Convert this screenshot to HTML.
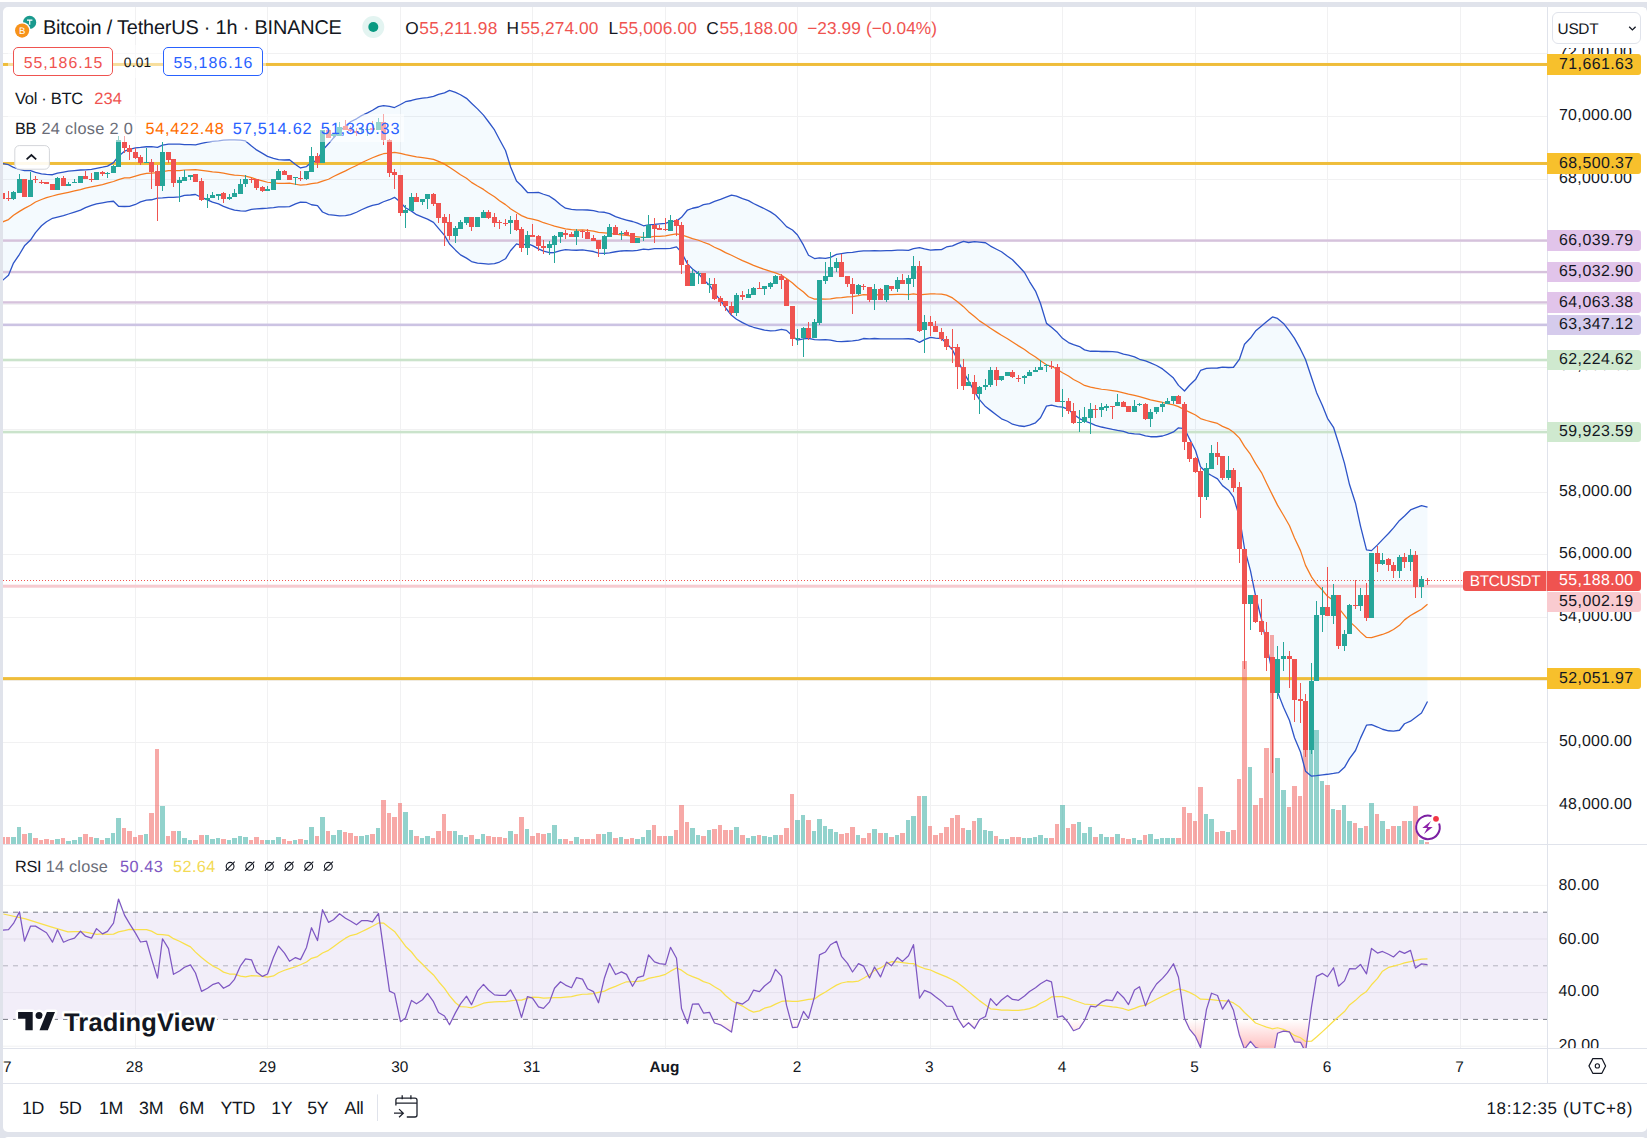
<!DOCTYPE html>
<html><head><meta charset="utf-8"><title>BTCUSDT</title><style>
html,body{margin:0;padding:0;}
body{width:1647px;height:1138px;overflow:hidden;position:relative;background:#e0e3eb;font-family:"Liberation Sans",sans-serif;text-rendering:geometricPrecision;}
.panel{position:absolute;background:#fff;border-radius:5px;}
.t{position:absolute;white-space:nowrap;}
.box{position:absolute;border:1px solid;border-radius:5px;box-sizing:border-box;background:#fff;}
.pb{position:absolute;border-radius:0 3px 3px 0;}
.usdt{position:absolute;left:1552.3px;top:12.3px;width:89px;height:31.3px;box-sizing:border-box;border:1px solid #e0e3eb;border-radius:6px;background:#fff;}
</style></head><body>
<div class="panel" style="left:3px;top:7px;width:1644px;height:1125px"></div>
<div class="panel" style="left:3px;top:1137px;width:1644px;height:20px"></div>
<div style="position:absolute;left:0;top:0;width:1647px;height:2px;background:#fff"></div>
<svg width="1647" height="1138" viewBox="0 0 1647 1138" style="position:absolute;left:0;top:0">
<defs>
<clipPath id="cm"><rect x="3" y="7" width="1544" height="837"/></clipPath>
<clipPath id="cr"><rect x="3" y="845" width="1544" height="203"/></clipPath>
</defs>
<g clip-path="url(#cm)">
<rect x="2" y="7" width="1" height="837" fill="#f1f1f2"/>
<rect x="135" y="7" width="1" height="837" fill="#f1f1f2"/>
<rect x="267" y="7" width="1" height="837" fill="#f1f1f2"/>
<rect x="400" y="7" width="1" height="837" fill="#f1f1f2"/>
<rect x="532" y="7" width="1" height="837" fill="#f1f1f2"/>
<rect x="665" y="7" width="1" height="837" fill="#f1f1f2"/>
<rect x="797" y="7" width="1" height="837" fill="#f1f1f2"/>
<rect x="930" y="7" width="1" height="837" fill="#f1f1f2"/>
<rect x="1062" y="7" width="1" height="837" fill="#f1f1f2"/>
<rect x="1195" y="7" width="1" height="837" fill="#f1f1f2"/>
<rect x="1327" y="7" width="1" height="837" fill="#f1f1f2"/>
<rect x="1460" y="7" width="1" height="837" fill="#f1f1f2"/>
<rect x="3" y="805" width="1544" height="1" fill="#f1f1f2"/>
<rect x="3" y="742" width="1544" height="1" fill="#f1f1f2"/>
<rect x="3" y="680" width="1544" height="1" fill="#f1f1f2"/>
<rect x="3" y="617" width="1544" height="1" fill="#f1f1f2"/>
<rect x="3" y="554" width="1544" height="1" fill="#f1f1f2"/>
<rect x="3" y="492" width="1544" height="1" fill="#f1f1f2"/>
<rect x="3" y="429" width="1544" height="1" fill="#f1f1f2"/>
<rect x="3" y="367" width="1544" height="1" fill="#f1f1f2"/>
<rect x="3" y="304" width="1544" height="1" fill="#f1f1f2"/>
<rect x="3" y="241" width="1544" height="1" fill="#f1f1f2"/>
<rect x="3" y="179" width="1544" height="1" fill="#f1f1f2"/>
<rect x="3" y="116" width="1544" height="1" fill="#f1f1f2"/>
<rect x="3" y="53" width="1544" height="1" fill="#f1f1f2"/>
<rect x="3" y="-9" width="1544" height="1" fill="#f1f1f2"/>
<polygon points="2.50,163.60 8.50,164.73 13.50,167.41 19.50,169.40 24.50,170.60 30.50,170.70 35.50,172.36 41.50,173.77 46.50,174.44 52.50,174.74 57.50,173.18 63.50,172.04 68.50,171.16 74.50,170.55 80.50,170.00 85.50,169.78 91.50,169.39 96.50,168.28 102.50,167.18 107.50,166.07 113.50,162.66 118.50,156.25 124.50,151.22 129.50,149.31 135.50,147.86 140.50,147.44 146.50,146.73 151.50,146.53 157.50,147.36 162.50,145.09 168.50,144.07 173.50,144.05 179.50,144.17 184.50,144.70 190.50,144.70 195.50,144.90 201.50,143.29 207.50,142.17 212.50,141.45 218.50,140.95 223.50,140.15 229.50,139.89 234.50,139.85 240.50,140.16 245.50,140.91 251.50,145.92 256.50,149.89 262.50,153.39 267.50,156.32 273.50,158.27 278.50,159.68 284.50,160.02 289.50,159.74 295.50,164.53 300.50,167.99 306.50,166.60 311.50,162.32 317.50,160.29 322.50,150.18 328.50,143.80 333.50,137.94 339.50,131.28 345.50,126.05 350.50,121.79 356.50,118.80 361.50,115.67 367.50,112.92 372.50,110.24 378.50,106.66 383.50,105.69 389.50,106.47 394.50,107.53 400.50,104.52 405.50,101.71 411.50,100.49 416.50,99.10 422.50,98.17 427.50,97.59 433.50,96.47 438.50,94.36 444.50,92.87 449.50,90.37 455.50,92.41 460.50,94.73 466.50,98.32 471.50,103.20 477.50,108.89 483.50,115.15 488.50,121.75 494.50,129.96 499.50,139.45 505.50,150.48 510.50,166.68 516.50,181.05 521.50,185.76 527.50,192.54 532.50,192.62 538.50,192.34 543.50,194.25 549.50,196.22 554.50,199.59 560.50,204.73 565.50,208.19 571.50,209.32 576.50,209.88 582.50,209.85 587.50,210.01 593.50,210.70 598.50,211.78 604.50,212.27 609.50,213.61 615.50,216.66 621.50,218.71 626.50,220.04 632.50,221.50 637.50,223.14 643.50,225.77 648.50,224.85 654.50,224.39 659.50,223.86 665.50,223.34 670.50,221.45 676.50,221.13 681.50,217.30 687.50,210.02 692.50,208.24 698.50,207.01 703.50,204.65 709.50,203.66 714.50,201.40 720.50,199.33 725.50,197.45 731.50,195.15 736.50,196.16 742.50,198.55 748.50,200.64 753.50,203.48 759.50,206.43 764.50,208.75 770.50,211.86 775.50,215.20 781.50,221.12 786.50,226.66 792.50,230.05 797.50,234.97 803.50,245.19 808.50,255.21 814.50,258.54 819.50,257.91 825.50,258.37 830.50,257.44 836.50,254.33 841.50,253.55 847.50,252.63 852.50,252.33 858.50,251.39 863.50,250.80 869.50,250.97 874.50,250.61 880.50,250.81 886.50,250.58 891.50,250.54 897.50,250.04 902.50,250.09 908.50,250.35 913.50,248.65 919.50,247.53 924.50,248.94 930.50,250.16 935.50,249.73 941.50,249.57 946.50,246.98 952.50,245.87 957.50,243.60 963.50,241.40 968.50,242.49 974.50,241.58 979.50,242.06 985.50,242.73 990.50,246.08 996.50,249.25 1001.50,251.76 1007.50,256.25 1012.50,259.73 1018.50,265.98 1024.50,272.47 1029.50,281.54 1035.50,291.04 1040.50,303.51 1046.50,323.37 1051.50,327.32 1057.50,332.60 1062.50,338.31 1068.50,342.59 1073.50,344.68 1079.50,346.55 1084.50,349.91 1090.50,351.26 1095.50,351.13 1101.50,351.48 1106.50,351.42 1112.50,351.65 1117.50,352.18 1123.50,354.22 1128.50,355.14 1134.50,356.86 1139.50,359.26 1145.50,360.89 1150.50,362.87 1156.50,365.52 1162.50,368.92 1167.50,373.08 1173.50,378.03 1178.50,385.39 1184.50,390.97 1189.50,385.29 1195.50,379.57 1200.50,370.45 1206.50,368.41 1211.50,368.10 1217.50,368.00 1222.50,367.06 1228.50,367.51 1233.50,367.24 1239.50,359.08 1244.50,344.27 1250.50,338.03 1255.50,331.05 1261.50,325.90 1266.50,321.75 1272.50,316.89 1277.50,318.40 1283.50,323.38 1289.50,331.12 1294.50,338.42 1300.50,349.19 1305.50,359.55 1311.50,377.57 1316.50,392.40 1322.50,405.74 1327.50,418.32 1333.50,427.32 1338.50,442.95 1344.50,463.39 1349.50,484.55 1355.50,503.21 1360.50,526.05 1366.50,549.82 1371.50,550.60 1377.50,544.88 1382.50,539.66 1388.50,533.45 1393.50,527.85 1399.50,520.45 1404.50,515.99 1410.50,509.93 1415.50,507.86 1421.50,505.56 1427.50,507.17 1427.50,701.52 1421.50,713.07 1415.50,717.44 1410.50,721.15 1404.50,723.74 1399.50,730.26 1393.50,731.21 1388.50,730.77 1382.50,729.25 1377.50,727.03 1371.50,724.71 1366.50,725.17 1360.50,738.12 1355.50,750.51 1349.50,758.57 1344.50,767.35 1338.50,772.70 1333.50,773.48 1327.50,774.27 1322.50,774.78 1316.50,775.72 1311.50,776.17 1305.50,771.15 1300.50,752.02 1294.50,737.78 1289.50,720.47 1283.50,707.22 1277.50,691.88 1272.50,673.36 1266.50,644.37 1261.50,619.22 1255.50,595.72 1250.50,570.83 1244.50,548.52 1239.50,517.23 1233.50,497.13 1228.50,490.18 1222.50,485.62 1217.50,478.92 1211.50,475.54 1206.50,472.57 1200.50,466.75 1195.50,450.50 1189.50,438.92 1184.50,428.54 1178.50,427.80 1173.50,431.89 1167.50,434.45 1162.50,436.00 1156.50,436.74 1150.50,436.73 1145.50,435.87 1139.50,434.07 1134.50,433.85 1128.50,433.12 1123.50,431.38 1117.50,430.40 1112.50,429.46 1106.50,428.07 1101.50,427.01 1095.50,425.28 1090.50,423.15 1084.50,421.01 1079.50,418.57 1073.50,414.26 1068.50,409.38 1062.50,407.10 1057.50,406.54 1051.50,405.17 1046.50,406.16 1040.50,417.78 1035.50,422.80 1029.50,425.12 1024.50,426.49 1018.50,425.74 1012.50,424.20 1007.50,421.24 1001.50,418.80 996.50,414.97 990.50,410.38 985.50,406.59 979.50,399.66 974.50,391.56 968.50,380.87 963.50,371.95 957.50,359.80 952.50,349.93 946.50,343.17 941.50,338.50 935.50,338.22 930.50,337.43 924.50,339.65 919.50,342.41 913.50,339.24 908.50,338.73 902.50,338.79 897.50,338.79 891.50,338.78 886.50,338.79 880.50,338.82 874.50,338.52 869.50,338.78 863.50,338.51 858.50,340.02 852.50,340.88 847.50,341.23 841.50,341.53 836.50,341.36 830.50,340.10 825.50,339.65 819.50,339.84 814.50,339.70 808.50,338.27 803.50,338.93 797.50,340.15 792.50,336.05 786.50,330.36 781.50,329.41 775.50,330.68 770.50,330.81 764.50,330.16 759.50,328.87 753.50,327.26 748.50,325.52 742.50,322.66 736.50,319.23 731.50,315.34 725.50,307.75 720.50,300.38 714.50,293.06 709.50,285.22 703.50,279.82 698.50,273.47 692.50,269.07 687.50,263.88 681.50,252.44 676.50,246.83 670.50,248.35 665.50,248.63 659.50,248.65 654.50,248.58 648.50,249.70 643.50,249.20 637.50,250.42 632.50,250.83 626.50,250.66 621.50,250.98 615.50,251.75 609.50,252.92 604.50,253.42 598.50,253.13 593.50,251.51 587.50,250.65 582.50,249.93 576.50,250.23 571.50,250.09 565.50,249.64 560.50,250.52 554.50,252.48 549.50,252.74 543.50,251.17 538.50,248.87 532.50,245.59 527.50,243.66 521.50,245.44 516.50,243.90 510.50,250.77 505.50,258.80 499.50,262.02 494.50,263.68 488.50,264.09 483.50,263.64 477.50,263.15 471.50,261.55 466.50,258.13 460.50,254.88 455.50,250.16 449.50,244.03 444.50,235.42 438.50,228.39 433.50,222.39 427.50,219.17 422.50,217.21 416.50,214.71 411.50,211.10 405.50,207.72 400.50,202.32 394.50,197.36 389.50,199.72 383.50,201.75 378.50,204.11 372.50,205.29 367.50,207.15 361.50,209.73 356.50,212.23 350.50,214.71 345.50,215.66 339.50,215.89 333.50,215.12 328.50,214.71 322.50,212.00 317.50,205.61 311.50,204.74 306.50,202.47 300.50,202.08 295.50,203.96 289.50,206.63 284.50,206.85 278.50,206.93 273.50,207.59 267.50,208.18 262.50,208.48 256.50,208.81 251.50,209.47 245.50,211.18 240.50,210.84 234.50,210.21 229.50,208.63 223.50,206.32 218.50,203.93 212.50,202.18 207.50,199.88 201.50,197.46 195.50,194.48 190.50,195.01 184.50,195.30 179.50,196.92 173.50,197.37 168.50,197.28 162.50,197.96 157.50,198.03 151.50,199.77 146.50,200.15 140.50,201.95 135.50,204.49 129.50,206.46 124.50,206.51 118.50,206.23 113.50,201.26 107.50,201.93 102.50,202.77 96.50,203.95 91.50,205.33 85.50,207.60 80.50,210.09 74.50,212.08 68.50,214.00 63.50,215.70 57.50,217.07 52.50,218.28 46.50,221.77 41.50,225.79 35.50,232.65 30.50,240.02 24.50,245.82 19.50,254.27 13.50,263.07 8.50,275.33 2.50,280.40" fill="rgba(33,150,243,0.05)"/>
<rect x="3" y="62.96" width="1544" height="3" fill="#efbd3a"/>
<rect x="3" y="161.97" width="1544" height="3" fill="#efbd3a"/>
<rect x="3" y="239.33" width="1544" height="2.4" fill="#d6c2dc"/>
<rect x="3" y="270.86" width="1544" height="2.4" fill="#d6c2dc"/>
<rect x="3" y="301.22" width="1544" height="2.4" fill="#d6c2dc"/>
<rect x="3" y="323.55" width="1544" height="2.6" fill="#ccc3e3"/>
<rect x="3" y="358.71" width="1544" height="2.6" fill="#cae3cb"/>
<rect x="3" y="430.77" width="1544" height="2.6" fill="#cae3cb"/>
<rect x="3" y="677.10" width="1544" height="3" fill="#efbd3a"/>
<rect x="3" y="584.70" width="1544" height="3" fill="#f6cbd0"/>
<rect x="0" y="837" width="5" height="7" fill="rgba(239,83,80,0.5)" shape-rendering="crispEdges"/>
<rect x="6" y="837" width="4" height="7" fill="rgba(239,83,80,0.5)" shape-rendering="crispEdges"/>
<rect x="11" y="837" width="5" height="7" fill="rgba(38,166,154,0.5)" shape-rendering="crispEdges"/>
<rect x="17" y="827" width="4" height="17" fill="rgba(38,166,154,0.5)" shape-rendering="crispEdges"/>
<rect x="22" y="834" width="5" height="10" fill="rgba(239,83,80,0.5)" shape-rendering="crispEdges"/>
<rect x="28" y="833" width="4" height="11" fill="rgba(38,166,154,0.5)" shape-rendering="crispEdges"/>
<rect x="33" y="838" width="5" height="6" fill="rgba(239,83,80,0.5)" shape-rendering="crispEdges"/>
<rect x="39" y="840" width="4" height="4" fill="rgba(239,83,80,0.5)" shape-rendering="crispEdges"/>
<rect x="44" y="839" width="5" height="5" fill="rgba(239,83,80,0.5)" shape-rendering="crispEdges"/>
<rect x="50" y="840" width="4" height="4" fill="rgba(239,83,80,0.5)" shape-rendering="crispEdges"/>
<rect x="55" y="839" width="5" height="5" fill="rgba(38,166,154,0.5)" shape-rendering="crispEdges"/>
<rect x="61" y="838" width="4" height="6" fill="rgba(239,83,80,0.5)" shape-rendering="crispEdges"/>
<rect x="66" y="841" width="5" height="3" fill="rgba(38,166,154,0.5)" shape-rendering="crispEdges"/>
<rect x="72" y="840" width="5" height="4" fill="rgba(38,166,154,0.5)" shape-rendering="crispEdges"/>
<rect x="78" y="837" width="4" height="7" fill="rgba(38,166,154,0.5)" shape-rendering="crispEdges"/>
<rect x="83" y="834" width="5" height="10" fill="rgba(239,83,80,0.5)" shape-rendering="crispEdges"/>
<rect x="89" y="837" width="4" height="7" fill="rgba(239,83,80,0.5)" shape-rendering="crispEdges"/>
<rect x="94" y="838" width="5" height="6" fill="rgba(38,166,154,0.5)" shape-rendering="crispEdges"/>
<rect x="100" y="840" width="4" height="4" fill="rgba(239,83,80,0.5)" shape-rendering="crispEdges"/>
<rect x="105" y="838" width="5" height="6" fill="rgba(38,166,154,0.5)" shape-rendering="crispEdges"/>
<rect x="111" y="833" width="4" height="11" fill="rgba(38,166,154,0.5)" shape-rendering="crispEdges"/>
<rect x="116" y="818" width="5" height="26" fill="rgba(38,166,154,0.5)" shape-rendering="crispEdges"/>
<rect x="122" y="828" width="4" height="16" fill="rgba(239,83,80,0.5)" shape-rendering="crispEdges"/>
<rect x="127" y="831" width="5" height="13" fill="rgba(239,83,80,0.5)" shape-rendering="crispEdges"/>
<rect x="133" y="837" width="4" height="7" fill="rgba(239,83,80,0.5)" shape-rendering="crispEdges"/>
<rect x="138" y="835" width="5" height="9" fill="rgba(239,83,80,0.5)" shape-rendering="crispEdges"/>
<rect x="144" y="834" width="4" height="10" fill="rgba(38,166,154,0.5)" shape-rendering="crispEdges"/>
<rect x="149" y="813" width="5" height="31" fill="rgba(239,83,80,0.5)" shape-rendering="crispEdges"/>
<rect x="155" y="749" width="4" height="95" fill="rgba(239,83,80,0.5)" shape-rendering="crispEdges"/>
<rect x="160" y="806" width="5" height="38" fill="rgba(38,166,154,0.5)" shape-rendering="crispEdges"/>
<rect x="166" y="836" width="4" height="8" fill="rgba(239,83,80,0.5)" shape-rendering="crispEdges"/>
<rect x="171" y="831" width="5" height="13" fill="rgba(239,83,80,0.5)" shape-rendering="crispEdges"/>
<rect x="177" y="831" width="4" height="13" fill="rgba(38,166,154,0.5)" shape-rendering="crispEdges"/>
<rect x="182" y="838" width="5" height="6" fill="rgba(38,166,154,0.5)" shape-rendering="crispEdges"/>
<rect x="188" y="840" width="4" height="4" fill="rgba(38,166,154,0.5)" shape-rendering="crispEdges"/>
<rect x="193" y="840" width="5" height="4" fill="rgba(239,83,80,0.5)" shape-rendering="crispEdges"/>
<rect x="199" y="835" width="5" height="9" fill="rgba(239,83,80,0.5)" shape-rendering="crispEdges"/>
<rect x="205" y="835" width="4" height="9" fill="rgba(38,166,154,0.5)" shape-rendering="crispEdges"/>
<rect x="210" y="839" width="5" height="5" fill="rgba(38,166,154,0.5)" shape-rendering="crispEdges"/>
<rect x="216" y="838" width="4" height="6" fill="rgba(38,166,154,0.5)" shape-rendering="crispEdges"/>
<rect x="221" y="839" width="5" height="5" fill="rgba(239,83,80,0.5)" shape-rendering="crispEdges"/>
<rect x="227" y="840" width="4" height="4" fill="rgba(38,166,154,0.5)" shape-rendering="crispEdges"/>
<rect x="232" y="838" width="5" height="6" fill="rgba(38,166,154,0.5)" shape-rendering="crispEdges"/>
<rect x="238" y="836" width="4" height="8" fill="rgba(38,166,154,0.5)" shape-rendering="crispEdges"/>
<rect x="243" y="837" width="5" height="7" fill="rgba(38,166,154,0.5)" shape-rendering="crispEdges"/>
<rect x="249" y="840" width="4" height="4" fill="rgba(239,83,80,0.5)" shape-rendering="crispEdges"/>
<rect x="254" y="837" width="5" height="7" fill="rgba(239,83,80,0.5)" shape-rendering="crispEdges"/>
<rect x="260" y="840" width="4" height="4" fill="rgba(239,83,80,0.5)" shape-rendering="crispEdges"/>
<rect x="265" y="840" width="5" height="4" fill="rgba(38,166,154,0.5)" shape-rendering="crispEdges"/>
<rect x="271" y="840" width="4" height="4" fill="rgba(38,166,154,0.5)" shape-rendering="crispEdges"/>
<rect x="276" y="837" width="5" height="7" fill="rgba(38,166,154,0.5)" shape-rendering="crispEdges"/>
<rect x="282" y="839" width="4" height="5" fill="rgba(239,83,80,0.5)" shape-rendering="crispEdges"/>
<rect x="287" y="841" width="5" height="3" fill="rgba(239,83,80,0.5)" shape-rendering="crispEdges"/>
<rect x="293" y="840" width="4" height="4" fill="rgba(38,166,154,0.5)" shape-rendering="crispEdges"/>
<rect x="298" y="839" width="5" height="5" fill="rgba(239,83,80,0.5)" shape-rendering="crispEdges"/>
<rect x="304" y="840" width="4" height="4" fill="rgba(38,166,154,0.5)" shape-rendering="crispEdges"/>
<rect x="309" y="827" width="5" height="17" fill="rgba(38,166,154,0.5)" shape-rendering="crispEdges"/>
<rect x="315" y="836" width="4" height="8" fill="rgba(239,83,80,0.5)" shape-rendering="crispEdges"/>
<rect x="320" y="817" width="5" height="27" fill="rgba(38,166,154,0.5)" shape-rendering="crispEdges"/>
<rect x="326" y="831" width="4" height="13" fill="rgba(239,83,80,0.5)" shape-rendering="crispEdges"/>
<rect x="331" y="835" width="5" height="9" fill="rgba(38,166,154,0.5)" shape-rendering="crispEdges"/>
<rect x="337" y="830" width="5" height="14" fill="rgba(38,166,154,0.5)" shape-rendering="crispEdges"/>
<rect x="343" y="832" width="4" height="12" fill="rgba(239,83,80,0.5)" shape-rendering="crispEdges"/>
<rect x="348" y="833" width="5" height="11" fill="rgba(239,83,80,0.5)" shape-rendering="crispEdges"/>
<rect x="354" y="836" width="4" height="8" fill="rgba(239,83,80,0.5)" shape-rendering="crispEdges"/>
<rect x="359" y="836" width="5" height="8" fill="rgba(38,166,154,0.5)" shape-rendering="crispEdges"/>
<rect x="365" y="835" width="4" height="9" fill="rgba(38,166,154,0.5)" shape-rendering="crispEdges"/>
<rect x="370" y="834" width="5" height="10" fill="rgba(239,83,80,0.5)" shape-rendering="crispEdges"/>
<rect x="376" y="828" width="4" height="16" fill="rgba(38,166,154,0.5)" shape-rendering="crispEdges"/>
<rect x="381" y="800" width="5" height="44" fill="rgba(239,83,80,0.5)" shape-rendering="crispEdges"/>
<rect x="387" y="813" width="4" height="31" fill="rgba(239,83,80,0.5)" shape-rendering="crispEdges"/>
<rect x="392" y="817" width="5" height="27" fill="rgba(239,83,80,0.5)" shape-rendering="crispEdges"/>
<rect x="398" y="803" width="4" height="41" fill="rgba(239,83,80,0.5)" shape-rendering="crispEdges"/>
<rect x="403" y="812" width="5" height="32" fill="rgba(38,166,154,0.5)" shape-rendering="crispEdges"/>
<rect x="409" y="830" width="4" height="14" fill="rgba(38,166,154,0.5)" shape-rendering="crispEdges"/>
<rect x="414" y="836" width="5" height="8" fill="rgba(239,83,80,0.5)" shape-rendering="crispEdges"/>
<rect x="420" y="838" width="4" height="6" fill="rgba(38,166,154,0.5)" shape-rendering="crispEdges"/>
<rect x="425" y="836" width="5" height="8" fill="rgba(38,166,154,0.5)" shape-rendering="crispEdges"/>
<rect x="431" y="838" width="4" height="6" fill="rgba(239,83,80,0.5)" shape-rendering="crispEdges"/>
<rect x="436" y="831" width="5" height="13" fill="rgba(239,83,80,0.5)" shape-rendering="crispEdges"/>
<rect x="442" y="814" width="4" height="30" fill="rgba(239,83,80,0.5)" shape-rendering="crispEdges"/>
<rect x="447" y="831" width="5" height="13" fill="rgba(239,83,80,0.5)" shape-rendering="crispEdges"/>
<rect x="453" y="831" width="4" height="13" fill="rgba(38,166,154,0.5)" shape-rendering="crispEdges"/>
<rect x="458" y="835" width="5" height="9" fill="rgba(38,166,154,0.5)" shape-rendering="crispEdges"/>
<rect x="464" y="837" width="4" height="7" fill="rgba(38,166,154,0.5)" shape-rendering="crispEdges"/>
<rect x="469" y="835" width="5" height="9" fill="rgba(239,83,80,0.5)" shape-rendering="crispEdges"/>
<rect x="475" y="839" width="5" height="5" fill="rgba(38,166,154,0.5)" shape-rendering="crispEdges"/>
<rect x="481" y="834" width="4" height="10" fill="rgba(38,166,154,0.5)" shape-rendering="crispEdges"/>
<rect x="486" y="836" width="5" height="8" fill="rgba(239,83,80,0.5)" shape-rendering="crispEdges"/>
<rect x="492" y="837" width="4" height="7" fill="rgba(239,83,80,0.5)" shape-rendering="crispEdges"/>
<rect x="497" y="837" width="5" height="7" fill="rgba(239,83,80,0.5)" shape-rendering="crispEdges"/>
<rect x="503" y="838" width="4" height="6" fill="rgba(239,83,80,0.5)" shape-rendering="crispEdges"/>
<rect x="508" y="831" width="5" height="13" fill="rgba(38,166,154,0.5)" shape-rendering="crispEdges"/>
<rect x="514" y="834" width="4" height="10" fill="rgba(239,83,80,0.5)" shape-rendering="crispEdges"/>
<rect x="519" y="817" width="5" height="27" fill="rgba(239,83,80,0.5)" shape-rendering="crispEdges"/>
<rect x="525" y="829" width="4" height="15" fill="rgba(38,166,154,0.5)" shape-rendering="crispEdges"/>
<rect x="530" y="836" width="5" height="8" fill="rgba(239,83,80,0.5)" shape-rendering="crispEdges"/>
<rect x="536" y="833" width="4" height="11" fill="rgba(239,83,80,0.5)" shape-rendering="crispEdges"/>
<rect x="541" y="834" width="5" height="10" fill="rgba(239,83,80,0.5)" shape-rendering="crispEdges"/>
<rect x="547" y="833" width="4" height="11" fill="rgba(38,166,154,0.5)" shape-rendering="crispEdges"/>
<rect x="552" y="825" width="5" height="19" fill="rgba(38,166,154,0.5)" shape-rendering="crispEdges"/>
<rect x="558" y="839" width="4" height="5" fill="rgba(38,166,154,0.5)" shape-rendering="crispEdges"/>
<rect x="563" y="839" width="5" height="5" fill="rgba(239,83,80,0.5)" shape-rendering="crispEdges"/>
<rect x="569" y="841" width="4" height="3" fill="rgba(239,83,80,0.5)" shape-rendering="crispEdges"/>
<rect x="574" y="837" width="5" height="7" fill="rgba(38,166,154,0.5)" shape-rendering="crispEdges"/>
<rect x="580" y="839" width="4" height="5" fill="rgba(239,83,80,0.5)" shape-rendering="crispEdges"/>
<rect x="585" y="839" width="5" height="5" fill="rgba(239,83,80,0.5)" shape-rendering="crispEdges"/>
<rect x="591" y="839" width="4" height="5" fill="rgba(239,83,80,0.5)" shape-rendering="crispEdges"/>
<rect x="596" y="834" width="5" height="10" fill="rgba(239,83,80,0.5)" shape-rendering="crispEdges"/>
<rect x="602" y="834" width="4" height="10" fill="rgba(38,166,154,0.5)" shape-rendering="crispEdges"/>
<rect x="607" y="832" width="5" height="12" fill="rgba(38,166,154,0.5)" shape-rendering="crispEdges"/>
<rect x="613" y="838" width="5" height="6" fill="rgba(239,83,80,0.5)" shape-rendering="crispEdges"/>
<rect x="619" y="837" width="4" height="7" fill="rgba(38,166,154,0.5)" shape-rendering="crispEdges"/>
<rect x="624" y="839" width="5" height="5" fill="rgba(239,83,80,0.5)" shape-rendering="crispEdges"/>
<rect x="630" y="838" width="4" height="6" fill="rgba(239,83,80,0.5)" shape-rendering="crispEdges"/>
<rect x="635" y="839" width="5" height="5" fill="rgba(38,166,154,0.5)" shape-rendering="crispEdges"/>
<rect x="641" y="837" width="4" height="7" fill="rgba(38,166,154,0.5)" shape-rendering="crispEdges"/>
<rect x="646" y="830" width="5" height="14" fill="rgba(38,166,154,0.5)" shape-rendering="crispEdges"/>
<rect x="652" y="825" width="4" height="19" fill="rgba(239,83,80,0.5)" shape-rendering="crispEdges"/>
<rect x="657" y="836" width="5" height="8" fill="rgba(239,83,80,0.5)" shape-rendering="crispEdges"/>
<rect x="663" y="836" width="4" height="8" fill="rgba(239,83,80,0.5)" shape-rendering="crispEdges"/>
<rect x="668" y="836" width="5" height="8" fill="rgba(38,166,154,0.5)" shape-rendering="crispEdges"/>
<rect x="674" y="830" width="4" height="14" fill="rgba(239,83,80,0.5)" shape-rendering="crispEdges"/>
<rect x="679" y="805" width="5" height="39" fill="rgba(239,83,80,0.5)" shape-rendering="crispEdges"/>
<rect x="685" y="822" width="4" height="22" fill="rgba(239,83,80,0.5)" shape-rendering="crispEdges"/>
<rect x="690" y="828" width="5" height="16" fill="rgba(38,166,154,0.5)" shape-rendering="crispEdges"/>
<rect x="696" y="835" width="4" height="9" fill="rgba(38,166,154,0.5)" shape-rendering="crispEdges"/>
<rect x="701" y="836" width="5" height="8" fill="rgba(239,83,80,0.5)" shape-rendering="crispEdges"/>
<rect x="707" y="830" width="4" height="14" fill="rgba(38,166,154,0.5)" shape-rendering="crispEdges"/>
<rect x="712" y="829" width="5" height="15" fill="rgba(239,83,80,0.5)" shape-rendering="crispEdges"/>
<rect x="718" y="825" width="4" height="19" fill="rgba(239,83,80,0.5)" shape-rendering="crispEdges"/>
<rect x="723" y="830" width="5" height="14" fill="rgba(239,83,80,0.5)" shape-rendering="crispEdges"/>
<rect x="729" y="830" width="4" height="14" fill="rgba(239,83,80,0.5)" shape-rendering="crispEdges"/>
<rect x="734" y="827" width="5" height="17" fill="rgba(38,166,154,0.5)" shape-rendering="crispEdges"/>
<rect x="740" y="835" width="5" height="9" fill="rgba(239,83,80,0.5)" shape-rendering="crispEdges"/>
<rect x="746" y="838" width="4" height="6" fill="rgba(38,166,154,0.5)" shape-rendering="crispEdges"/>
<rect x="751" y="836" width="5" height="8" fill="rgba(38,166,154,0.5)" shape-rendering="crispEdges"/>
<rect x="757" y="835" width="4" height="9" fill="rgba(239,83,80,0.5)" shape-rendering="crispEdges"/>
<rect x="762" y="836" width="5" height="8" fill="rgba(38,166,154,0.5)" shape-rendering="crispEdges"/>
<rect x="768" y="837" width="4" height="7" fill="rgba(38,166,154,0.5)" shape-rendering="crispEdges"/>
<rect x="773" y="835" width="5" height="9" fill="rgba(38,166,154,0.5)" shape-rendering="crispEdges"/>
<rect x="779" y="835" width="4" height="9" fill="rgba(239,83,80,0.5)" shape-rendering="crispEdges"/>
<rect x="784" y="828" width="5" height="16" fill="rgba(239,83,80,0.5)" shape-rendering="crispEdges"/>
<rect x="790" y="794" width="4" height="50" fill="rgba(239,83,80,0.5)" shape-rendering="crispEdges"/>
<rect x="795" y="820" width="5" height="24" fill="rgba(38,166,154,0.5)" shape-rendering="crispEdges"/>
<rect x="801" y="815" width="4" height="29" fill="rgba(38,166,154,0.5)" shape-rendering="crispEdges"/>
<rect x="806" y="820" width="5" height="24" fill="rgba(239,83,80,0.5)" shape-rendering="crispEdges"/>
<rect x="812" y="831" width="4" height="13" fill="rgba(38,166,154,0.5)" shape-rendering="crispEdges"/>
<rect x="817" y="819" width="5" height="25" fill="rgba(38,166,154,0.5)" shape-rendering="crispEdges"/>
<rect x="823" y="826" width="4" height="18" fill="rgba(38,166,154,0.5)" shape-rendering="crispEdges"/>
<rect x="828" y="829" width="5" height="15" fill="rgba(38,166,154,0.5)" shape-rendering="crispEdges"/>
<rect x="834" y="832" width="4" height="12" fill="rgba(38,166,154,0.5)" shape-rendering="crispEdges"/>
<rect x="839" y="834" width="5" height="10" fill="rgba(239,83,80,0.5)" shape-rendering="crispEdges"/>
<rect x="845" y="833" width="4" height="11" fill="rgba(239,83,80,0.5)" shape-rendering="crispEdges"/>
<rect x="850" y="827" width="5" height="17" fill="rgba(239,83,80,0.5)" shape-rendering="crispEdges"/>
<rect x="856" y="835" width="4" height="9" fill="rgba(38,166,154,0.5)" shape-rendering="crispEdges"/>
<rect x="861" y="838" width="5" height="6" fill="rgba(239,83,80,0.5)" shape-rendering="crispEdges"/>
<rect x="867" y="833" width="4" height="11" fill="rgba(239,83,80,0.5)" shape-rendering="crispEdges"/>
<rect x="872" y="829" width="5" height="15" fill="rgba(38,166,154,0.5)" shape-rendering="crispEdges"/>
<rect x="878" y="833" width="5" height="11" fill="rgba(239,83,80,0.5)" shape-rendering="crispEdges"/>
<rect x="884" y="833" width="4" height="11" fill="rgba(38,166,154,0.5)" shape-rendering="crispEdges"/>
<rect x="889" y="837" width="5" height="7" fill="rgba(239,83,80,0.5)" shape-rendering="crispEdges"/>
<rect x="895" y="835" width="4" height="9" fill="rgba(38,166,154,0.5)" shape-rendering="crispEdges"/>
<rect x="900" y="833" width="5" height="11" fill="rgba(239,83,80,0.5)" shape-rendering="crispEdges"/>
<rect x="906" y="820" width="4" height="24" fill="rgba(38,166,154,0.5)" shape-rendering="crispEdges"/>
<rect x="911" y="816" width="5" height="28" fill="rgba(38,166,154,0.5)" shape-rendering="crispEdges"/>
<rect x="917" y="796" width="4" height="48" fill="rgba(239,83,80,0.5)" shape-rendering="crispEdges"/>
<rect x="922" y="796" width="5" height="48" fill="rgba(38,166,154,0.5)" shape-rendering="crispEdges"/>
<rect x="928" y="826" width="4" height="18" fill="rgba(239,83,80,0.5)" shape-rendering="crispEdges"/>
<rect x="933" y="835" width="5" height="9" fill="rgba(239,83,80,0.5)" shape-rendering="crispEdges"/>
<rect x="939" y="833" width="4" height="11" fill="rgba(239,83,80,0.5)" shape-rendering="crispEdges"/>
<rect x="944" y="827" width="5" height="17" fill="rgba(239,83,80,0.5)" shape-rendering="crispEdges"/>
<rect x="950" y="818" width="4" height="26" fill="rgba(239,83,80,0.5)" shape-rendering="crispEdges"/>
<rect x="955" y="815" width="5" height="29" fill="rgba(239,83,80,0.5)" shape-rendering="crispEdges"/>
<rect x="961" y="828" width="4" height="16" fill="rgba(239,83,80,0.5)" shape-rendering="crispEdges"/>
<rect x="966" y="830" width="5" height="14" fill="rgba(38,166,154,0.5)" shape-rendering="crispEdges"/>
<rect x="972" y="821" width="4" height="23" fill="rgba(239,83,80,0.5)" shape-rendering="crispEdges"/>
<rect x="977" y="818" width="5" height="26" fill="rgba(38,166,154,0.5)" shape-rendering="crispEdges"/>
<rect x="983" y="830" width="4" height="14" fill="rgba(38,166,154,0.5)" shape-rendering="crispEdges"/>
<rect x="988" y="831" width="5" height="13" fill="rgba(38,166,154,0.5)" shape-rendering="crispEdges"/>
<rect x="994" y="836" width="4" height="8" fill="rgba(239,83,80,0.5)" shape-rendering="crispEdges"/>
<rect x="999" y="839" width="5" height="5" fill="rgba(38,166,154,0.5)" shape-rendering="crispEdges"/>
<rect x="1005" y="839" width="4" height="5" fill="rgba(38,166,154,0.5)" shape-rendering="crispEdges"/>
<rect x="1010" y="837" width="5" height="7" fill="rgba(239,83,80,0.5)" shape-rendering="crispEdges"/>
<rect x="1016" y="837" width="5" height="7" fill="rgba(239,83,80,0.5)" shape-rendering="crispEdges"/>
<rect x="1022" y="838" width="4" height="6" fill="rgba(38,166,154,0.5)" shape-rendering="crispEdges"/>
<rect x="1027" y="838" width="5" height="6" fill="rgba(38,166,154,0.5)" shape-rendering="crispEdges"/>
<rect x="1033" y="837" width="4" height="7" fill="rgba(38,166,154,0.5)" shape-rendering="crispEdges"/>
<rect x="1038" y="835" width="5" height="9" fill="rgba(38,166,154,0.5)" shape-rendering="crispEdges"/>
<rect x="1044" y="838" width="4" height="6" fill="rgba(38,166,154,0.5)" shape-rendering="crispEdges"/>
<rect x="1049" y="838" width="5" height="6" fill="rgba(239,83,80,0.5)" shape-rendering="crispEdges"/>
<rect x="1055" y="824" width="4" height="20" fill="rgba(239,83,80,0.5)" shape-rendering="crispEdges"/>
<rect x="1060" y="805" width="5" height="39" fill="rgba(38,166,154,0.5)" shape-rendering="crispEdges"/>
<rect x="1066" y="828" width="4" height="16" fill="rgba(239,83,80,0.5)" shape-rendering="crispEdges"/>
<rect x="1071" y="824" width="5" height="20" fill="rgba(239,83,80,0.5)" shape-rendering="crispEdges"/>
<rect x="1077" y="822" width="4" height="22" fill="rgba(38,166,154,0.5)" shape-rendering="crispEdges"/>
<rect x="1082" y="833" width="5" height="11" fill="rgba(38,166,154,0.5)" shape-rendering="crispEdges"/>
<rect x="1088" y="827" width="4" height="17" fill="rgba(38,166,154,0.5)" shape-rendering="crispEdges"/>
<rect x="1093" y="837" width="5" height="7" fill="rgba(239,83,80,0.5)" shape-rendering="crispEdges"/>
<rect x="1099" y="834" width="4" height="10" fill="rgba(38,166,154,0.5)" shape-rendering="crispEdges"/>
<rect x="1104" y="837" width="5" height="7" fill="rgba(38,166,154,0.5)" shape-rendering="crispEdges"/>
<rect x="1110" y="837" width="4" height="7" fill="rgba(239,83,80,0.5)" shape-rendering="crispEdges"/>
<rect x="1115" y="834" width="5" height="10" fill="rgba(38,166,154,0.5)" shape-rendering="crispEdges"/>
<rect x="1121" y="838" width="4" height="6" fill="rgba(239,83,80,0.5)" shape-rendering="crispEdges"/>
<rect x="1126" y="839" width="5" height="5" fill="rgba(239,83,80,0.5)" shape-rendering="crispEdges"/>
<rect x="1132" y="838" width="4" height="6" fill="rgba(38,166,154,0.5)" shape-rendering="crispEdges"/>
<rect x="1137" y="840" width="5" height="4" fill="rgba(38,166,154,0.5)" shape-rendering="crispEdges"/>
<rect x="1143" y="835" width="4" height="9" fill="rgba(239,83,80,0.5)" shape-rendering="crispEdges"/>
<rect x="1148" y="834" width="5" height="10" fill="rgba(38,166,154,0.5)" shape-rendering="crispEdges"/>
<rect x="1154" y="839" width="5" height="5" fill="rgba(38,166,154,0.5)" shape-rendering="crispEdges"/>
<rect x="1160" y="838" width="4" height="6" fill="rgba(38,166,154,0.5)" shape-rendering="crispEdges"/>
<rect x="1165" y="838" width="5" height="6" fill="rgba(38,166,154,0.5)" shape-rendering="crispEdges"/>
<rect x="1171" y="838" width="4" height="6" fill="rgba(38,166,154,0.5)" shape-rendering="crispEdges"/>
<rect x="1176" y="838" width="5" height="6" fill="rgba(239,83,80,0.5)" shape-rendering="crispEdges"/>
<rect x="1182" y="807" width="4" height="37" fill="rgba(239,83,80,0.5)" shape-rendering="crispEdges"/>
<rect x="1187" y="813" width="5" height="31" fill="rgba(239,83,80,0.5)" shape-rendering="crispEdges"/>
<rect x="1193" y="821" width="4" height="23" fill="rgba(239,83,80,0.5)" shape-rendering="crispEdges"/>
<rect x="1198" y="787" width="5" height="57" fill="rgba(239,83,80,0.5)" shape-rendering="crispEdges"/>
<rect x="1204" y="814" width="4" height="30" fill="rgba(38,166,154,0.5)" shape-rendering="crispEdges"/>
<rect x="1209" y="819" width="5" height="25" fill="rgba(38,166,154,0.5)" shape-rendering="crispEdges"/>
<rect x="1215" y="832" width="4" height="12" fill="rgba(239,83,80,0.5)" shape-rendering="crispEdges"/>
<rect x="1220" y="831" width="5" height="13" fill="rgba(239,83,80,0.5)" shape-rendering="crispEdges"/>
<rect x="1226" y="832" width="4" height="12" fill="rgba(38,166,154,0.5)" shape-rendering="crispEdges"/>
<rect x="1231" y="830" width="5" height="14" fill="rgba(239,83,80,0.5)" shape-rendering="crispEdges"/>
<rect x="1237" y="779" width="4" height="65" fill="rgba(239,83,80,0.5)" shape-rendering="crispEdges"/>
<rect x="1242" y="661" width="5" height="183" fill="rgba(239,83,80,0.5)" shape-rendering="crispEdges"/>
<rect x="1248" y="767" width="4" height="77" fill="rgba(38,166,154,0.5)" shape-rendering="crispEdges"/>
<rect x="1253" y="805" width="5" height="39" fill="rgba(239,83,80,0.5)" shape-rendering="crispEdges"/>
<rect x="1259" y="798" width="4" height="46" fill="rgba(239,83,80,0.5)" shape-rendering="crispEdges"/>
<rect x="1264" y="748" width="5" height="96" fill="rgba(239,83,80,0.5)" shape-rendering="crispEdges"/>
<rect x="1270" y="635" width="4" height="209" fill="rgba(239,83,80,0.5)" shape-rendering="crispEdges"/>
<rect x="1275" y="758" width="5" height="86" fill="rgba(38,166,154,0.5)" shape-rendering="crispEdges"/>
<rect x="1281" y="790" width="5" height="54" fill="rgba(38,166,154,0.5)" shape-rendering="crispEdges"/>
<rect x="1287" y="807" width="4" height="37" fill="rgba(239,83,80,0.5)" shape-rendering="crispEdges"/>
<rect x="1292" y="786" width="5" height="58" fill="rgba(239,83,80,0.5)" shape-rendering="crispEdges"/>
<rect x="1298" y="796" width="4" height="48" fill="rgba(239,83,80,0.5)" shape-rendering="crispEdges"/>
<rect x="1303" y="745" width="5" height="99" fill="rgba(239,83,80,0.5)" shape-rendering="crispEdges"/>
<rect x="1309" y="745" width="4" height="99" fill="rgba(38,166,154,0.5)" shape-rendering="crispEdges"/>
<rect x="1314" y="730" width="5" height="114" fill="rgba(38,166,154,0.5)" shape-rendering="crispEdges"/>
<rect x="1320" y="781" width="4" height="63" fill="rgba(38,166,154,0.5)" shape-rendering="crispEdges"/>
<rect x="1325" y="785" width="5" height="59" fill="rgba(239,83,80,0.5)" shape-rendering="crispEdges"/>
<rect x="1331" y="809" width="4" height="35" fill="rgba(38,166,154,0.5)" shape-rendering="crispEdges"/>
<rect x="1336" y="810" width="5" height="34" fill="rgba(239,83,80,0.5)" shape-rendering="crispEdges"/>
<rect x="1342" y="805" width="4" height="39" fill="rgba(38,166,154,0.5)" shape-rendering="crispEdges"/>
<rect x="1347" y="821" width="5" height="23" fill="rgba(38,166,154,0.5)" shape-rendering="crispEdges"/>
<rect x="1353" y="823" width="4" height="21" fill="rgba(239,83,80,0.5)" shape-rendering="crispEdges"/>
<rect x="1358" y="828" width="5" height="16" fill="rgba(38,166,154,0.5)" shape-rendering="crispEdges"/>
<rect x="1364" y="826" width="4" height="18" fill="rgba(239,83,80,0.5)" shape-rendering="crispEdges"/>
<rect x="1369" y="803" width="5" height="41" fill="rgba(38,166,154,0.5)" shape-rendering="crispEdges"/>
<rect x="1375" y="814" width="4" height="30" fill="rgba(239,83,80,0.5)" shape-rendering="crispEdges"/>
<rect x="1380" y="821" width="5" height="23" fill="rgba(38,166,154,0.5)" shape-rendering="crispEdges"/>
<rect x="1386" y="829" width="4" height="15" fill="rgba(239,83,80,0.5)" shape-rendering="crispEdges"/>
<rect x="1391" y="826" width="5" height="18" fill="rgba(239,83,80,0.5)" shape-rendering="crispEdges"/>
<rect x="1397" y="826" width="4" height="18" fill="rgba(38,166,154,0.5)" shape-rendering="crispEdges"/>
<rect x="1402" y="821" width="5" height="23" fill="rgba(239,83,80,0.5)" shape-rendering="crispEdges"/>
<rect x="1408" y="821" width="4" height="23" fill="rgba(38,166,154,0.5)" shape-rendering="crispEdges"/>
<rect x="1413" y="806" width="5" height="38" fill="rgba(239,83,80,0.5)" shape-rendering="crispEdges"/>
<rect x="1419" y="840" width="5" height="4" fill="rgba(38,166,154,0.5)" shape-rendering="crispEdges"/>
<rect x="1425" y="842" width="4" height="2" fill="rgba(239,83,80,0.5)" shape-rendering="crispEdges"/>
<polyline points="2.50,163.60 8.50,164.73 13.50,167.41 19.50,169.40 24.50,170.60 30.50,170.70 35.50,172.36 41.50,173.77 46.50,174.44 52.50,174.74 57.50,173.18 63.50,172.04 68.50,171.16 74.50,170.55 80.50,170.00 85.50,169.78 91.50,169.39 96.50,168.28 102.50,167.18 107.50,166.07 113.50,162.66 118.50,156.25 124.50,151.22 129.50,149.31 135.50,147.86 140.50,147.44 146.50,146.73 151.50,146.53 157.50,147.36 162.50,145.09 168.50,144.07 173.50,144.05 179.50,144.17 184.50,144.70 190.50,144.70 195.50,144.90 201.50,143.29 207.50,142.17 212.50,141.45 218.50,140.95 223.50,140.15 229.50,139.89 234.50,139.85 240.50,140.16 245.50,140.91 251.50,145.92 256.50,149.89 262.50,153.39 267.50,156.32 273.50,158.27 278.50,159.68 284.50,160.02 289.50,159.74 295.50,164.53 300.50,167.99 306.50,166.60 311.50,162.32 317.50,160.29 322.50,150.18 328.50,143.80 333.50,137.94 339.50,131.28 345.50,126.05 350.50,121.79 356.50,118.80 361.50,115.67 367.50,112.92 372.50,110.24 378.50,106.66 383.50,105.69 389.50,106.47 394.50,107.53 400.50,104.52 405.50,101.71 411.50,100.49 416.50,99.10 422.50,98.17 427.50,97.59 433.50,96.47 438.50,94.36 444.50,92.87 449.50,90.37 455.50,92.41 460.50,94.73 466.50,98.32 471.50,103.20 477.50,108.89 483.50,115.15 488.50,121.75 494.50,129.96 499.50,139.45 505.50,150.48 510.50,166.68 516.50,181.05 521.50,185.76 527.50,192.54 532.50,192.62 538.50,192.34 543.50,194.25 549.50,196.22 554.50,199.59 560.50,204.73 565.50,208.19 571.50,209.32 576.50,209.88 582.50,209.85 587.50,210.01 593.50,210.70 598.50,211.78 604.50,212.27 609.50,213.61 615.50,216.66 621.50,218.71 626.50,220.04 632.50,221.50 637.50,223.14 643.50,225.77 648.50,224.85 654.50,224.39 659.50,223.86 665.50,223.34 670.50,221.45 676.50,221.13 681.50,217.30 687.50,210.02 692.50,208.24 698.50,207.01 703.50,204.65 709.50,203.66 714.50,201.40 720.50,199.33 725.50,197.45 731.50,195.15 736.50,196.16 742.50,198.55 748.50,200.64 753.50,203.48 759.50,206.43 764.50,208.75 770.50,211.86 775.50,215.20 781.50,221.12 786.50,226.66 792.50,230.05 797.50,234.97 803.50,245.19 808.50,255.21 814.50,258.54 819.50,257.91 825.50,258.37 830.50,257.44 836.50,254.33 841.50,253.55 847.50,252.63 852.50,252.33 858.50,251.39 863.50,250.80 869.50,250.97 874.50,250.61 880.50,250.81 886.50,250.58 891.50,250.54 897.50,250.04 902.50,250.09 908.50,250.35 913.50,248.65 919.50,247.53 924.50,248.94 930.50,250.16 935.50,249.73 941.50,249.57 946.50,246.98 952.50,245.87 957.50,243.60 963.50,241.40 968.50,242.49 974.50,241.58 979.50,242.06 985.50,242.73 990.50,246.08 996.50,249.25 1001.50,251.76 1007.50,256.25 1012.50,259.73 1018.50,265.98 1024.50,272.47 1029.50,281.54 1035.50,291.04 1040.50,303.51 1046.50,323.37 1051.50,327.32 1057.50,332.60 1062.50,338.31 1068.50,342.59 1073.50,344.68 1079.50,346.55 1084.50,349.91 1090.50,351.26 1095.50,351.13 1101.50,351.48 1106.50,351.42 1112.50,351.65 1117.50,352.18 1123.50,354.22 1128.50,355.14 1134.50,356.86 1139.50,359.26 1145.50,360.89 1150.50,362.87 1156.50,365.52 1162.50,368.92 1167.50,373.08 1173.50,378.03 1178.50,385.39 1184.50,390.97 1189.50,385.29 1195.50,379.57 1200.50,370.45 1206.50,368.41 1211.50,368.10 1217.50,368.00 1222.50,367.06 1228.50,367.51 1233.50,367.24 1239.50,359.08 1244.50,344.27 1250.50,338.03 1255.50,331.05 1261.50,325.90 1266.50,321.75 1272.50,316.89 1277.50,318.40 1283.50,323.38 1289.50,331.12 1294.50,338.42 1300.50,349.19 1305.50,359.55 1311.50,377.57 1316.50,392.40 1322.50,405.74 1327.50,418.32 1333.50,427.32 1338.50,442.95 1344.50,463.39 1349.50,484.55 1355.50,503.21 1360.50,526.05 1366.50,549.82 1371.50,550.60 1377.50,544.88 1382.50,539.66 1388.50,533.45 1393.50,527.85 1399.50,520.45 1404.50,515.99 1410.50,509.93 1415.50,507.86 1421.50,505.56 1427.50,507.17" fill="none" stroke="#2d54c8" stroke-width="1.3" stroke-linejoin="round"/>
<polyline points="2.50,280.40 8.50,275.33 13.50,263.07 19.50,254.27 24.50,245.82 30.50,240.02 35.50,232.65 41.50,225.79 46.50,221.77 52.50,218.28 57.50,217.07 63.50,215.70 68.50,214.00 74.50,212.08 80.50,210.09 85.50,207.60 91.50,205.33 96.50,203.95 102.50,202.77 107.50,201.93 113.50,201.26 118.50,206.23 124.50,206.51 129.50,206.46 135.50,204.49 140.50,201.95 146.50,200.15 151.50,199.77 157.50,198.03 162.50,197.96 168.50,197.28 173.50,197.37 179.50,196.92 184.50,195.30 190.50,195.01 195.50,194.48 201.50,197.46 207.50,199.88 212.50,202.18 218.50,203.93 223.50,206.32 229.50,208.63 234.50,210.21 240.50,210.84 245.50,211.18 251.50,209.47 256.50,208.81 262.50,208.48 267.50,208.18 273.50,207.59 278.50,206.93 284.50,206.85 289.50,206.63 295.50,203.96 300.50,202.08 306.50,202.47 311.50,204.74 317.50,205.61 322.50,212.00 328.50,214.71 333.50,215.12 339.50,215.89 345.50,215.66 350.50,214.71 356.50,212.23 361.50,209.73 367.50,207.15 372.50,205.29 378.50,204.11 383.50,201.75 389.50,199.72 394.50,197.36 400.50,202.32 405.50,207.72 411.50,211.10 416.50,214.71 422.50,217.21 427.50,219.17 433.50,222.39 438.50,228.39 444.50,235.42 449.50,244.03 455.50,250.16 460.50,254.88 466.50,258.13 471.50,261.55 477.50,263.15 483.50,263.64 488.50,264.09 494.50,263.68 499.50,262.02 505.50,258.80 510.50,250.77 516.50,243.90 521.50,245.44 527.50,243.66 532.50,245.59 538.50,248.87 543.50,251.17 549.50,252.74 554.50,252.48 560.50,250.52 565.50,249.64 571.50,250.09 576.50,250.23 582.50,249.93 587.50,250.65 593.50,251.51 598.50,253.13 604.50,253.42 609.50,252.92 615.50,251.75 621.50,250.98 626.50,250.66 632.50,250.83 637.50,250.42 643.50,249.20 648.50,249.70 654.50,248.58 659.50,248.65 665.50,248.63 670.50,248.35 676.50,246.83 681.50,252.44 687.50,263.88 692.50,269.07 698.50,273.47 703.50,279.82 709.50,285.22 714.50,293.06 720.50,300.38 725.50,307.75 731.50,315.34 736.50,319.23 742.50,322.66 748.50,325.52 753.50,327.26 759.50,328.87 764.50,330.16 770.50,330.81 775.50,330.68 781.50,329.41 786.50,330.36 792.50,336.05 797.50,340.15 803.50,338.93 808.50,338.27 814.50,339.70 819.50,339.84 825.50,339.65 830.50,340.10 836.50,341.36 841.50,341.53 847.50,341.23 852.50,340.88 858.50,340.02 863.50,338.51 869.50,338.78 874.50,338.52 880.50,338.82 886.50,338.79 891.50,338.78 897.50,338.79 902.50,338.79 908.50,338.73 913.50,339.24 919.50,342.41 924.50,339.65 930.50,337.43 935.50,338.22 941.50,338.50 946.50,343.17 952.50,349.93 957.50,359.80 963.50,371.95 968.50,380.87 974.50,391.56 979.50,399.66 985.50,406.59 990.50,410.38 996.50,414.97 1001.50,418.80 1007.50,421.24 1012.50,424.20 1018.50,425.74 1024.50,426.49 1029.50,425.12 1035.50,422.80 1040.50,417.78 1046.50,406.16 1051.50,405.17 1057.50,406.54 1062.50,407.10 1068.50,409.38 1073.50,414.26 1079.50,418.57 1084.50,421.01 1090.50,423.15 1095.50,425.28 1101.50,427.01 1106.50,428.07 1112.50,429.46 1117.50,430.40 1123.50,431.38 1128.50,433.12 1134.50,433.85 1139.50,434.07 1145.50,435.87 1150.50,436.73 1156.50,436.74 1162.50,436.00 1167.50,434.45 1173.50,431.89 1178.50,427.80 1184.50,428.54 1189.50,438.92 1195.50,450.50 1200.50,466.75 1206.50,472.57 1211.50,475.54 1217.50,478.92 1222.50,485.62 1228.50,490.18 1233.50,497.13 1239.50,517.23 1244.50,548.52 1250.50,570.83 1255.50,595.72 1261.50,619.22 1266.50,644.37 1272.50,673.36 1277.50,691.88 1283.50,707.22 1289.50,720.47 1294.50,737.78 1300.50,752.02 1305.50,771.15 1311.50,776.17 1316.50,775.72 1322.50,774.78 1327.50,774.27 1333.50,773.48 1338.50,772.70 1344.50,767.35 1349.50,758.57 1355.50,750.51 1360.50,738.12 1366.50,725.17 1371.50,724.71 1377.50,727.03 1382.50,729.25 1388.50,730.77 1393.50,731.21 1399.50,730.26 1404.50,723.74 1410.50,721.15 1415.50,717.44 1421.50,713.07 1427.50,701.52" fill="none" stroke="#2d54c8" stroke-width="1.3" stroke-linejoin="round"/>
<polyline points="2.50,222.00 8.50,219.55 13.50,215.33 19.50,211.37 24.50,208.36 30.50,205.22 35.50,202.03 41.50,199.50 46.50,197.64 52.50,195.99 57.50,194.61 63.50,193.41 68.50,192.30 74.50,190.97 80.50,189.59 85.50,188.21 91.50,186.89 96.50,185.78 102.50,184.57 107.50,183.19 113.50,181.50 118.50,179.56 124.50,177.84 129.50,177.88 135.50,176.17 140.50,174.69 146.50,173.44 151.50,173.15 157.50,172.69 162.50,171.53 168.50,170.67 173.50,170.71 179.50,170.54 184.50,170.00 190.50,169.86 195.50,169.69 201.50,170.38 207.50,171.03 212.50,171.82 218.50,172.44 223.50,173.23 229.50,174.26 234.50,175.03 240.50,175.50 245.50,176.05 251.50,177.70 256.50,179.35 262.50,180.93 267.50,182.25 273.50,182.93 278.50,183.31 284.50,183.43 289.50,183.19 295.50,184.25 300.50,185.03 306.50,184.53 311.50,183.53 317.50,182.95 322.50,181.09 328.50,179.26 333.50,176.53 339.50,173.59 345.50,170.86 350.50,168.25 356.50,165.52 361.50,162.70 367.50,160.03 372.50,157.76 378.50,155.39 383.50,153.72 389.50,153.10 394.50,152.45 400.50,153.42 405.50,154.71 411.50,155.80 416.50,156.90 422.50,157.69 427.50,158.38 433.50,159.43 438.50,161.37 444.50,164.15 449.50,167.20 455.50,171.29 460.50,174.80 466.50,178.22 471.50,182.38 477.50,186.02 483.50,189.40 488.50,192.92 494.50,196.82 499.50,200.74 505.50,204.64 510.50,208.72 516.50,212.47 521.50,215.60 527.50,218.10 532.50,219.10 538.50,220.60 543.50,222.71 549.50,224.48 554.50,226.04 560.50,227.62 565.50,228.91 571.50,229.70 576.50,230.05 582.50,229.89 587.50,230.33 593.50,231.10 598.50,232.45 604.50,232.85 609.50,233.26 615.50,234.20 621.50,234.85 626.50,235.35 632.50,236.16 637.50,236.78 643.50,237.49 648.50,237.28 654.50,236.48 659.50,236.26 665.50,235.98 670.50,234.90 676.50,233.98 681.50,234.87 687.50,236.95 692.50,238.65 698.50,240.24 703.50,242.23 709.50,244.44 714.50,247.23 720.50,249.85 725.50,252.60 731.50,255.25 736.50,257.70 742.50,260.60 748.50,263.08 753.50,265.37 759.50,267.65 764.50,269.45 770.50,271.33 775.50,272.94 781.50,275.27 786.50,278.51 792.50,283.05 797.50,287.56 803.50,292.06 808.50,296.74 814.50,299.12 819.50,298.88 825.50,299.01 830.50,298.77 836.50,297.84 841.50,297.54 847.50,296.93 852.50,296.60 858.50,295.71 863.50,294.66 869.50,294.88 874.50,294.56 880.50,294.81 886.50,294.68 891.50,294.66 897.50,294.41 902.50,294.44 908.50,294.54 913.50,293.95 919.50,294.97 924.50,294.30 930.50,293.80 935.50,293.98 941.50,294.03 946.50,295.07 952.50,297.90 957.50,301.70 963.50,306.67 968.50,311.68 974.50,316.57 979.50,320.86 985.50,324.66 990.50,328.23 996.50,332.11 1001.50,335.28 1007.50,338.74 1012.50,341.97 1018.50,345.86 1024.50,349.48 1029.50,353.33 1035.50,356.92 1040.50,360.65 1046.50,364.77 1051.50,366.24 1057.50,369.57 1062.50,372.70 1068.50,375.98 1073.50,379.47 1079.50,382.56 1084.50,385.46 1090.50,387.21 1095.50,388.20 1101.50,389.25 1106.50,389.75 1112.50,390.56 1117.50,391.29 1123.50,392.80 1128.50,394.13 1134.50,395.35 1139.50,396.67 1145.50,398.38 1150.50,399.80 1156.50,401.13 1162.50,402.46 1167.50,403.76 1173.50,404.96 1178.50,406.60 1184.50,409.76 1189.50,412.10 1195.50,415.03 1200.50,418.60 1206.50,420.49 1211.50,421.82 1217.50,423.46 1222.50,426.34 1228.50,428.84 1233.50,432.19 1239.50,438.15 1244.50,446.39 1250.50,454.43 1255.50,463.39 1261.50,472.56 1266.50,483.06 1272.50,495.12 1277.50,505.14 1283.50,515.30 1289.50,525.79 1294.50,538.10 1300.50,550.61 1305.50,565.35 1311.50,576.87 1316.50,584.06 1322.50,590.26 1327.50,596.29 1333.50,600.40 1338.50,607.82 1344.50,615.37 1349.50,621.56 1355.50,626.86 1360.50,632.09 1366.50,637.50 1371.50,637.65 1377.50,635.95 1382.50,634.46 1388.50,632.11 1393.50,629.53 1399.50,625.36 1404.50,619.87 1410.50,615.54 1415.50,612.65 1421.50,609.31 1427.50,604.35" fill="none" stroke="#f57a20" stroke-width="1.25" stroke-linejoin="round"/>
<line x1="3" y1="580.50" x2="1547" y2="580.50" stroke="#ef5350" stroke-width="1" stroke-dasharray="1,2"/>
<rect x="2" y="192" width="1" height="7" fill="#ef5350" shape-rendering="crispEdges"/>
<rect x="0" y="193" width="5" height="6" fill="#ef5350" shape-rendering="crispEdges"/>
<rect x="8" y="191" width="1" height="10" fill="#ef5350" shape-rendering="crispEdges"/>
<rect x="6" y="198" width="5" height="1" fill="#ef5350" shape-rendering="crispEdges"/>
<rect x="13" y="191" width="1" height="9" fill="#26a69a" shape-rendering="crispEdges"/>
<rect x="11" y="192" width="5" height="7" fill="#26a69a" shape-rendering="crispEdges"/>
<rect x="19" y="174" width="1" height="19" fill="#26a69a" shape-rendering="crispEdges"/>
<rect x="17" y="179" width="5" height="14" fill="#26a69a" shape-rendering="crispEdges"/>
<rect x="24" y="179" width="1" height="18" fill="#ef5350" shape-rendering="crispEdges"/>
<rect x="22" y="179" width="5" height="18" fill="#ef5350" shape-rendering="crispEdges"/>
<rect x="30" y="172" width="1" height="25" fill="#26a69a" shape-rendering="crispEdges"/>
<rect x="28" y="180" width="5" height="17" fill="#26a69a" shape-rendering="crispEdges"/>
<rect x="35" y="176" width="1" height="7" fill="#ef5350" shape-rendering="crispEdges"/>
<rect x="33" y="179" width="5" height="1" fill="#ef5350" shape-rendering="crispEdges"/>
<rect x="41" y="180" width="1" height="4" fill="#ef5350" shape-rendering="crispEdges"/>
<rect x="39" y="182" width="5" height="1" fill="#ef5350" shape-rendering="crispEdges"/>
<rect x="46" y="182" width="1" height="2" fill="#ef5350" shape-rendering="crispEdges"/>
<rect x="44" y="182" width="5" height="2" fill="#ef5350" shape-rendering="crispEdges"/>
<rect x="52" y="184" width="1" height="6" fill="#ef5350" shape-rendering="crispEdges"/>
<rect x="50" y="184" width="5" height="6" fill="#ef5350" shape-rendering="crispEdges"/>
<rect x="57" y="177" width="1" height="13" fill="#26a69a" shape-rendering="crispEdges"/>
<rect x="55" y="178" width="5" height="12" fill="#26a69a" shape-rendering="crispEdges"/>
<rect x="63" y="176" width="1" height="10" fill="#ef5350" shape-rendering="crispEdges"/>
<rect x="61" y="178" width="5" height="8" fill="#ef5350" shape-rendering="crispEdges"/>
<rect x="68" y="182" width="1" height="4" fill="#26a69a" shape-rendering="crispEdges"/>
<rect x="66" y="184" width="5" height="2" fill="#26a69a" shape-rendering="crispEdges"/>
<rect x="74" y="179" width="1" height="4" fill="#26a69a" shape-rendering="crispEdges"/>
<rect x="72" y="182" width="5" height="1" fill="#26a69a" shape-rendering="crispEdges"/>
<rect x="80" y="176" width="1" height="7" fill="#26a69a" shape-rendering="crispEdges"/>
<rect x="78" y="176" width="5" height="7" fill="#26a69a" shape-rendering="crispEdges"/>
<rect x="85" y="171" width="1" height="8" fill="#ef5350" shape-rendering="crispEdges"/>
<rect x="83" y="176" width="5" height="3" fill="#ef5350" shape-rendering="crispEdges"/>
<rect x="91" y="173" width="1" height="9" fill="#ef5350" shape-rendering="crispEdges"/>
<rect x="89" y="179" width="5" height="1" fill="#ef5350" shape-rendering="crispEdges"/>
<rect x="96" y="172" width="1" height="8" fill="#26a69a" shape-rendering="crispEdges"/>
<rect x="94" y="172" width="5" height="8" fill="#26a69a" shape-rendering="crispEdges"/>
<rect x="102" y="171" width="1" height="5" fill="#ef5350" shape-rendering="crispEdges"/>
<rect x="100" y="172" width="5" height="2" fill="#ef5350" shape-rendering="crispEdges"/>
<rect x="107" y="172" width="1" height="6" fill="#26a69a" shape-rendering="crispEdges"/>
<rect x="105" y="173" width="5" height="1" fill="#26a69a" shape-rendering="crispEdges"/>
<rect x="113" y="165" width="1" height="8" fill="#26a69a" shape-rendering="crispEdges"/>
<rect x="111" y="166" width="5" height="7" fill="#26a69a" shape-rendering="crispEdges"/>
<rect x="118" y="136" width="1" height="31" fill="#26a69a" shape-rendering="crispEdges"/>
<rect x="116" y="140" width="5" height="27" fill="#26a69a" shape-rendering="crispEdges"/>
<rect x="124" y="136" width="1" height="17" fill="#ef5350" shape-rendering="crispEdges"/>
<rect x="122" y="142" width="5" height="6" fill="#ef5350" shape-rendering="crispEdges"/>
<rect x="129" y="145" width="1" height="15" fill="#ef5350" shape-rendering="crispEdges"/>
<rect x="127" y="148" width="5" height="4" fill="#ef5350" shape-rendering="crispEdges"/>
<rect x="135" y="148" width="1" height="11" fill="#ef5350" shape-rendering="crispEdges"/>
<rect x="133" y="152" width="5" height="6" fill="#ef5350" shape-rendering="crispEdges"/>
<rect x="140" y="155" width="1" height="10" fill="#ef5350" shape-rendering="crispEdges"/>
<rect x="138" y="157" width="5" height="6" fill="#ef5350" shape-rendering="crispEdges"/>
<rect x="146" y="148" width="1" height="15" fill="#26a69a" shape-rendering="crispEdges"/>
<rect x="144" y="162" width="5" height="1" fill="#26a69a" shape-rendering="crispEdges"/>
<rect x="151" y="159" width="1" height="30" fill="#ef5350" shape-rendering="crispEdges"/>
<rect x="149" y="162" width="5" height="10" fill="#ef5350" shape-rendering="crispEdges"/>
<rect x="157" y="165" width="1" height="56" fill="#ef5350" shape-rendering="crispEdges"/>
<rect x="155" y="171" width="5" height="15" fill="#ef5350" shape-rendering="crispEdges"/>
<rect x="162" y="142" width="1" height="49" fill="#26a69a" shape-rendering="crispEdges"/>
<rect x="160" y="152" width="5" height="34" fill="#26a69a" shape-rendering="crispEdges"/>
<rect x="168" y="152" width="1" height="11" fill="#ef5350" shape-rendering="crispEdges"/>
<rect x="166" y="152" width="5" height="8" fill="#ef5350" shape-rendering="crispEdges"/>
<rect x="173" y="159" width="1" height="28" fill="#ef5350" shape-rendering="crispEdges"/>
<rect x="171" y="159" width="5" height="24" fill="#ef5350" shape-rendering="crispEdges"/>
<rect x="179" y="177" width="1" height="25" fill="#26a69a" shape-rendering="crispEdges"/>
<rect x="177" y="180" width="5" height="3" fill="#26a69a" shape-rendering="crispEdges"/>
<rect x="184" y="170" width="1" height="11" fill="#26a69a" shape-rendering="crispEdges"/>
<rect x="182" y="177" width="5" height="4" fill="#26a69a" shape-rendering="crispEdges"/>
<rect x="190" y="175" width="1" height="5" fill="#26a69a" shape-rendering="crispEdges"/>
<rect x="188" y="175" width="5" height="2" fill="#26a69a" shape-rendering="crispEdges"/>
<rect x="195" y="174" width="1" height="8" fill="#ef5350" shape-rendering="crispEdges"/>
<rect x="193" y="174" width="5" height="8" fill="#ef5350" shape-rendering="crispEdges"/>
<rect x="201" y="178" width="1" height="23" fill="#ef5350" shape-rendering="crispEdges"/>
<rect x="199" y="181" width="5" height="19" fill="#ef5350" shape-rendering="crispEdges"/>
<rect x="207" y="194" width="1" height="14" fill="#26a69a" shape-rendering="crispEdges"/>
<rect x="205" y="198" width="5" height="2" fill="#26a69a" shape-rendering="crispEdges"/>
<rect x="212" y="192" width="1" height="6" fill="#26a69a" shape-rendering="crispEdges"/>
<rect x="210" y="195" width="5" height="3" fill="#26a69a" shape-rendering="crispEdges"/>
<rect x="218" y="194" width="1" height="6" fill="#26a69a" shape-rendering="crispEdges"/>
<rect x="216" y="194" width="5" height="2" fill="#26a69a" shape-rendering="crispEdges"/>
<rect x="223" y="192" width="1" height="11" fill="#ef5350" shape-rendering="crispEdges"/>
<rect x="221" y="193" width="5" height="6" fill="#ef5350" shape-rendering="crispEdges"/>
<rect x="229" y="194" width="1" height="6" fill="#26a69a" shape-rendering="crispEdges"/>
<rect x="227" y="197" width="5" height="2" fill="#26a69a" shape-rendering="crispEdges"/>
<rect x="234" y="189" width="1" height="8" fill="#26a69a" shape-rendering="crispEdges"/>
<rect x="232" y="193" width="5" height="4" fill="#26a69a" shape-rendering="crispEdges"/>
<rect x="240" y="179" width="1" height="15" fill="#26a69a" shape-rendering="crispEdges"/>
<rect x="238" y="184" width="5" height="10" fill="#26a69a" shape-rendering="crispEdges"/>
<rect x="245" y="175" width="1" height="12" fill="#26a69a" shape-rendering="crispEdges"/>
<rect x="243" y="179" width="5" height="5" fill="#26a69a" shape-rendering="crispEdges"/>
<rect x="251" y="178" width="1" height="5" fill="#ef5350" shape-rendering="crispEdges"/>
<rect x="249" y="179" width="5" height="1" fill="#ef5350" shape-rendering="crispEdges"/>
<rect x="256" y="179" width="1" height="11" fill="#ef5350" shape-rendering="crispEdges"/>
<rect x="254" y="179" width="5" height="9" fill="#ef5350" shape-rendering="crispEdges"/>
<rect x="262" y="186" width="1" height="6" fill="#ef5350" shape-rendering="crispEdges"/>
<rect x="260" y="187" width="5" height="4" fill="#ef5350" shape-rendering="crispEdges"/>
<rect x="267" y="186" width="1" height="5" fill="#26a69a" shape-rendering="crispEdges"/>
<rect x="265" y="189" width="5" height="2" fill="#26a69a" shape-rendering="crispEdges"/>
<rect x="273" y="179" width="1" height="11" fill="#26a69a" shape-rendering="crispEdges"/>
<rect x="271" y="179" width="5" height="11" fill="#26a69a" shape-rendering="crispEdges"/>
<rect x="278" y="169" width="1" height="11" fill="#26a69a" shape-rendering="crispEdges"/>
<rect x="276" y="171" width="5" height="9" fill="#26a69a" shape-rendering="crispEdges"/>
<rect x="284" y="170" width="1" height="5" fill="#ef5350" shape-rendering="crispEdges"/>
<rect x="282" y="171" width="5" height="4" fill="#ef5350" shape-rendering="crispEdges"/>
<rect x="289" y="175" width="1" height="5" fill="#ef5350" shape-rendering="crispEdges"/>
<rect x="287" y="175" width="5" height="5" fill="#ef5350" shape-rendering="crispEdges"/>
<rect x="295" y="177" width="1" height="8" fill="#26a69a" shape-rendering="crispEdges"/>
<rect x="293" y="177" width="5" height="1" fill="#26a69a" shape-rendering="crispEdges"/>
<rect x="300" y="171" width="1" height="10" fill="#ef5350" shape-rendering="crispEdges"/>
<rect x="298" y="178" width="5" height="1" fill="#ef5350" shape-rendering="crispEdges"/>
<rect x="306" y="171" width="1" height="9" fill="#26a69a" shape-rendering="crispEdges"/>
<rect x="304" y="171" width="5" height="8" fill="#26a69a" shape-rendering="crispEdges"/>
<rect x="311" y="147" width="1" height="25" fill="#26a69a" shape-rendering="crispEdges"/>
<rect x="309" y="156" width="5" height="16" fill="#26a69a" shape-rendering="crispEdges"/>
<rect x="317" y="153" width="1" height="15" fill="#ef5350" shape-rendering="crispEdges"/>
<rect x="315" y="156" width="5" height="7" fill="#ef5350" shape-rendering="crispEdges"/>
<rect x="322" y="130" width="1" height="33" fill="#26a69a" shape-rendering="crispEdges"/>
<rect x="320" y="130" width="5" height="33" fill="#26a69a" shape-rendering="crispEdges"/>
<rect x="328" y="129" width="1" height="9" fill="#ef5350" shape-rendering="crispEdges"/>
<rect x="326" y="130" width="5" height="8" fill="#ef5350" shape-rendering="crispEdges"/>
<rect x="333" y="133" width="1" height="4" fill="#26a69a" shape-rendering="crispEdges"/>
<rect x="331" y="134" width="5" height="2" fill="#26a69a" shape-rendering="crispEdges"/>
<rect x="339" y="122" width="1" height="14" fill="#26a69a" shape-rendering="crispEdges"/>
<rect x="337" y="127" width="5" height="9" fill="#26a69a" shape-rendering="crispEdges"/>
<rect x="345" y="120" width="1" height="10" fill="#ef5350" shape-rendering="crispEdges"/>
<rect x="343" y="126" width="5" height="4" fill="#ef5350" shape-rendering="crispEdges"/>
<rect x="350" y="126" width="1" height="6" fill="#ef5350" shape-rendering="crispEdges"/>
<rect x="348" y="129" width="5" height="2" fill="#ef5350" shape-rendering="crispEdges"/>
<rect x="356" y="128" width="1" height="8" fill="#ef5350" shape-rendering="crispEdges"/>
<rect x="354" y="131" width="5" height="2" fill="#ef5350" shape-rendering="crispEdges"/>
<rect x="361" y="127" width="1" height="6" fill="#26a69a" shape-rendering="crispEdges"/>
<rect x="359" y="129" width="5" height="1" fill="#26a69a" shape-rendering="crispEdges"/>
<rect x="367" y="126" width="1" height="10" fill="#26a69a" shape-rendering="crispEdges"/>
<rect x="365" y="129" width="5" height="1" fill="#26a69a" shape-rendering="crispEdges"/>
<rect x="372" y="121" width="1" height="9" fill="#ef5350" shape-rendering="crispEdges"/>
<rect x="370" y="128" width="5" height="2" fill="#ef5350" shape-rendering="crispEdges"/>
<rect x="378" y="118" width="1" height="12" fill="#26a69a" shape-rendering="crispEdges"/>
<rect x="376" y="122" width="5" height="8" fill="#26a69a" shape-rendering="crispEdges"/>
<rect x="383" y="114" width="1" height="31" fill="#ef5350" shape-rendering="crispEdges"/>
<rect x="381" y="122" width="5" height="18" fill="#ef5350" shape-rendering="crispEdges"/>
<rect x="389" y="139" width="1" height="38" fill="#ef5350" shape-rendering="crispEdges"/>
<rect x="387" y="140" width="5" height="33" fill="#ef5350" shape-rendering="crispEdges"/>
<rect x="394" y="169" width="1" height="20" fill="#ef5350" shape-rendering="crispEdges"/>
<rect x="392" y="172" width="5" height="3" fill="#ef5350" shape-rendering="crispEdges"/>
<rect x="400" y="175" width="1" height="41" fill="#ef5350" shape-rendering="crispEdges"/>
<rect x="398" y="175" width="5" height="38" fill="#ef5350" shape-rendering="crispEdges"/>
<rect x="405" y="205" width="1" height="23" fill="#26a69a" shape-rendering="crispEdges"/>
<rect x="403" y="210" width="5" height="3" fill="#26a69a" shape-rendering="crispEdges"/>
<rect x="411" y="193" width="1" height="18" fill="#26a69a" shape-rendering="crispEdges"/>
<rect x="409" y="197" width="5" height="14" fill="#26a69a" shape-rendering="crispEdges"/>
<rect x="416" y="193" width="1" height="9" fill="#ef5350" shape-rendering="crispEdges"/>
<rect x="414" y="197" width="5" height="5" fill="#ef5350" shape-rendering="crispEdges"/>
<rect x="422" y="199" width="1" height="6" fill="#26a69a" shape-rendering="crispEdges"/>
<rect x="420" y="199" width="5" height="3" fill="#26a69a" shape-rendering="crispEdges"/>
<rect x="427" y="194" width="1" height="15" fill="#26a69a" shape-rendering="crispEdges"/>
<rect x="425" y="194" width="5" height="5" fill="#26a69a" shape-rendering="crispEdges"/>
<rect x="433" y="193" width="1" height="13" fill="#ef5350" shape-rendering="crispEdges"/>
<rect x="431" y="194" width="5" height="10" fill="#ef5350" shape-rendering="crispEdges"/>
<rect x="438" y="203" width="1" height="20" fill="#ef5350" shape-rendering="crispEdges"/>
<rect x="436" y="203" width="5" height="15" fill="#ef5350" shape-rendering="crispEdges"/>
<rect x="444" y="214" width="1" height="32" fill="#ef5350" shape-rendering="crispEdges"/>
<rect x="442" y="217" width="5" height="6" fill="#ef5350" shape-rendering="crispEdges"/>
<rect x="449" y="214" width="1" height="26" fill="#ef5350" shape-rendering="crispEdges"/>
<rect x="447" y="222" width="5" height="14" fill="#ef5350" shape-rendering="crispEdges"/>
<rect x="455" y="226" width="1" height="17" fill="#26a69a" shape-rendering="crispEdges"/>
<rect x="453" y="228" width="5" height="8" fill="#26a69a" shape-rendering="crispEdges"/>
<rect x="460" y="220" width="1" height="9" fill="#26a69a" shape-rendering="crispEdges"/>
<rect x="458" y="222" width="5" height="7" fill="#26a69a" shape-rendering="crispEdges"/>
<rect x="466" y="217" width="1" height="8" fill="#26a69a" shape-rendering="crispEdges"/>
<rect x="464" y="217" width="5" height="6" fill="#26a69a" shape-rendering="crispEdges"/>
<rect x="471" y="217" width="1" height="14" fill="#ef5350" shape-rendering="crispEdges"/>
<rect x="469" y="217" width="5" height="10" fill="#ef5350" shape-rendering="crispEdges"/>
<rect x="477" y="217" width="1" height="10" fill="#26a69a" shape-rendering="crispEdges"/>
<rect x="475" y="217" width="5" height="10" fill="#26a69a" shape-rendering="crispEdges"/>
<rect x="483" y="210" width="1" height="8" fill="#26a69a" shape-rendering="crispEdges"/>
<rect x="481" y="212" width="5" height="6" fill="#26a69a" shape-rendering="crispEdges"/>
<rect x="488" y="210" width="1" height="9" fill="#ef5350" shape-rendering="crispEdges"/>
<rect x="486" y="212" width="5" height="6" fill="#ef5350" shape-rendering="crispEdges"/>
<rect x="494" y="213" width="1" height="14" fill="#ef5350" shape-rendering="crispEdges"/>
<rect x="492" y="217" width="5" height="6" fill="#ef5350" shape-rendering="crispEdges"/>
<rect x="499" y="220" width="1" height="9" fill="#ef5350" shape-rendering="crispEdges"/>
<rect x="497" y="222" width="5" height="1" fill="#ef5350" shape-rendering="crispEdges"/>
<rect x="505" y="219" width="1" height="7" fill="#ef5350" shape-rendering="crispEdges"/>
<rect x="503" y="223" width="5" height="1" fill="#ef5350" shape-rendering="crispEdges"/>
<rect x="510" y="216" width="1" height="18" fill="#26a69a" shape-rendering="crispEdges"/>
<rect x="508" y="220" width="5" height="3" fill="#26a69a" shape-rendering="crispEdges"/>
<rect x="516" y="214" width="1" height="17" fill="#ef5350" shape-rendering="crispEdges"/>
<rect x="514" y="220" width="5" height="10" fill="#ef5350" shape-rendering="crispEdges"/>
<rect x="521" y="227" width="1" height="25" fill="#ef5350" shape-rendering="crispEdges"/>
<rect x="519" y="229" width="5" height="19" fill="#ef5350" shape-rendering="crispEdges"/>
<rect x="527" y="231" width="1" height="24" fill="#26a69a" shape-rendering="crispEdges"/>
<rect x="525" y="235" width="5" height="13" fill="#26a69a" shape-rendering="crispEdges"/>
<rect x="532" y="224" width="1" height="13" fill="#ef5350" shape-rendering="crispEdges"/>
<rect x="530" y="235" width="5" height="2" fill="#ef5350" shape-rendering="crispEdges"/>
<rect x="538" y="235" width="1" height="16" fill="#ef5350" shape-rendering="crispEdges"/>
<rect x="536" y="236" width="5" height="10" fill="#ef5350" shape-rendering="crispEdges"/>
<rect x="543" y="240" width="1" height="14" fill="#ef5350" shape-rendering="crispEdges"/>
<rect x="541" y="246" width="5" height="2" fill="#ef5350" shape-rendering="crispEdges"/>
<rect x="549" y="241" width="1" height="14" fill="#26a69a" shape-rendering="crispEdges"/>
<rect x="547" y="244" width="5" height="4" fill="#26a69a" shape-rendering="crispEdges"/>
<rect x="554" y="235" width="1" height="28" fill="#26a69a" shape-rendering="crispEdges"/>
<rect x="552" y="236" width="5" height="9" fill="#26a69a" shape-rendering="crispEdges"/>
<rect x="560" y="232" width="1" height="11" fill="#26a69a" shape-rendering="crispEdges"/>
<rect x="558" y="232" width="5" height="5" fill="#26a69a" shape-rendering="crispEdges"/>
<rect x="565" y="230" width="1" height="9" fill="#ef5350" shape-rendering="crispEdges"/>
<rect x="563" y="233" width="5" height="2" fill="#ef5350" shape-rendering="crispEdges"/>
<rect x="571" y="232" width="1" height="5" fill="#ef5350" shape-rendering="crispEdges"/>
<rect x="569" y="234" width="5" height="3" fill="#ef5350" shape-rendering="crispEdges"/>
<rect x="576" y="229" width="1" height="16" fill="#26a69a" shape-rendering="crispEdges"/>
<rect x="574" y="231" width="5" height="6" fill="#26a69a" shape-rendering="crispEdges"/>
<rect x="582" y="230" width="1" height="8" fill="#ef5350" shape-rendering="crispEdges"/>
<rect x="580" y="231" width="5" height="1" fill="#ef5350" shape-rendering="crispEdges"/>
<rect x="587" y="229" width="1" height="10" fill="#ef5350" shape-rendering="crispEdges"/>
<rect x="585" y="232" width="5" height="7" fill="#ef5350" shape-rendering="crispEdges"/>
<rect x="593" y="235" width="1" height="6" fill="#ef5350" shape-rendering="crispEdges"/>
<rect x="591" y="238" width="5" height="3" fill="#ef5350" shape-rendering="crispEdges"/>
<rect x="598" y="240" width="1" height="17" fill="#ef5350" shape-rendering="crispEdges"/>
<rect x="596" y="240" width="5" height="9" fill="#ef5350" shape-rendering="crispEdges"/>
<rect x="604" y="235" width="1" height="20" fill="#26a69a" shape-rendering="crispEdges"/>
<rect x="602" y="236" width="5" height="13" fill="#26a69a" shape-rendering="crispEdges"/>
<rect x="609" y="224" width="1" height="13" fill="#26a69a" shape-rendering="crispEdges"/>
<rect x="607" y="227" width="5" height="10" fill="#26a69a" shape-rendering="crispEdges"/>
<rect x="615" y="225" width="1" height="10" fill="#ef5350" shape-rendering="crispEdges"/>
<rect x="613" y="227" width="5" height="8" fill="#ef5350" shape-rendering="crispEdges"/>
<rect x="621" y="231" width="1" height="9" fill="#26a69a" shape-rendering="crispEdges"/>
<rect x="619" y="233" width="5" height="1" fill="#26a69a" shape-rendering="crispEdges"/>
<rect x="626" y="230" width="1" height="6" fill="#ef5350" shape-rendering="crispEdges"/>
<rect x="624" y="232" width="5" height="3" fill="#ef5350" shape-rendering="crispEdges"/>
<rect x="632" y="233" width="1" height="10" fill="#ef5350" shape-rendering="crispEdges"/>
<rect x="630" y="233" width="5" height="10" fill="#ef5350" shape-rendering="crispEdges"/>
<rect x="637" y="238" width="1" height="5" fill="#26a69a" shape-rendering="crispEdges"/>
<rect x="635" y="238" width="5" height="5" fill="#26a69a" shape-rendering="crispEdges"/>
<rect x="643" y="232" width="1" height="9" fill="#26a69a" shape-rendering="crispEdges"/>
<rect x="641" y="237" width="5" height="1" fill="#26a69a" shape-rendering="crispEdges"/>
<rect x="648" y="215" width="1" height="23" fill="#26a69a" shape-rendering="crispEdges"/>
<rect x="646" y="225" width="5" height="13" fill="#26a69a" shape-rendering="crispEdges"/>
<rect x="654" y="218" width="1" height="25" fill="#ef5350" shape-rendering="crispEdges"/>
<rect x="652" y="225" width="5" height="4" fill="#ef5350" shape-rendering="crispEdges"/>
<rect x="659" y="225" width="1" height="5" fill="#ef5350" shape-rendering="crispEdges"/>
<rect x="657" y="228" width="5" height="2" fill="#ef5350" shape-rendering="crispEdges"/>
<rect x="665" y="218" width="1" height="13" fill="#ef5350" shape-rendering="crispEdges"/>
<rect x="663" y="229" width="5" height="1" fill="#ef5350" shape-rendering="crispEdges"/>
<rect x="670" y="215" width="1" height="16" fill="#26a69a" shape-rendering="crispEdges"/>
<rect x="668" y="220" width="5" height="11" fill="#26a69a" shape-rendering="crispEdges"/>
<rect x="676" y="219" width="1" height="17" fill="#ef5350" shape-rendering="crispEdges"/>
<rect x="674" y="220" width="5" height="6" fill="#ef5350" shape-rendering="crispEdges"/>
<rect x="681" y="222" width="1" height="52" fill="#ef5350" shape-rendering="crispEdges"/>
<rect x="679" y="225" width="5" height="40" fill="#ef5350" shape-rendering="crispEdges"/>
<rect x="687" y="260" width="1" height="26" fill="#ef5350" shape-rendering="crispEdges"/>
<rect x="685" y="265" width="5" height="21" fill="#ef5350" shape-rendering="crispEdges"/>
<rect x="692" y="269" width="1" height="17" fill="#26a69a" shape-rendering="crispEdges"/>
<rect x="690" y="273" width="5" height="13" fill="#26a69a" shape-rendering="crispEdges"/>
<rect x="698" y="271" width="1" height="13" fill="#26a69a" shape-rendering="crispEdges"/>
<rect x="696" y="273" width="5" height="1" fill="#26a69a" shape-rendering="crispEdges"/>
<rect x="703" y="273" width="1" height="11" fill="#ef5350" shape-rendering="crispEdges"/>
<rect x="701" y="273" width="5" height="11" fill="#ef5350" shape-rendering="crispEdges"/>
<rect x="709" y="278" width="1" height="15" fill="#26a69a" shape-rendering="crispEdges"/>
<rect x="707" y="284" width="5" height="1" fill="#26a69a" shape-rendering="crispEdges"/>
<rect x="714" y="278" width="1" height="22" fill="#ef5350" shape-rendering="crispEdges"/>
<rect x="712" y="284" width="5" height="15" fill="#ef5350" shape-rendering="crispEdges"/>
<rect x="720" y="296" width="1" height="10" fill="#ef5350" shape-rendering="crispEdges"/>
<rect x="718" y="298" width="5" height="4" fill="#ef5350" shape-rendering="crispEdges"/>
<rect x="725" y="301" width="1" height="10" fill="#ef5350" shape-rendering="crispEdges"/>
<rect x="723" y="301" width="5" height="5" fill="#ef5350" shape-rendering="crispEdges"/>
<rect x="731" y="302" width="1" height="13" fill="#ef5350" shape-rendering="crispEdges"/>
<rect x="729" y="306" width="5" height="7" fill="#ef5350" shape-rendering="crispEdges"/>
<rect x="736" y="293" width="1" height="23" fill="#26a69a" shape-rendering="crispEdges"/>
<rect x="734" y="295" width="5" height="18" fill="#26a69a" shape-rendering="crispEdges"/>
<rect x="742" y="291" width="1" height="9" fill="#ef5350" shape-rendering="crispEdges"/>
<rect x="740" y="295" width="5" height="2" fill="#ef5350" shape-rendering="crispEdges"/>
<rect x="748" y="289" width="1" height="9" fill="#26a69a" shape-rendering="crispEdges"/>
<rect x="746" y="294" width="5" height="4" fill="#26a69a" shape-rendering="crispEdges"/>
<rect x="753" y="287" width="1" height="8" fill="#26a69a" shape-rendering="crispEdges"/>
<rect x="751" y="288" width="5" height="7" fill="#26a69a" shape-rendering="crispEdges"/>
<rect x="759" y="282" width="1" height="7" fill="#ef5350" shape-rendering="crispEdges"/>
<rect x="757" y="288" width="5" height="1" fill="#ef5350" shape-rendering="crispEdges"/>
<rect x="764" y="286" width="1" height="9" fill="#26a69a" shape-rendering="crispEdges"/>
<rect x="762" y="286" width="5" height="3" fill="#26a69a" shape-rendering="crispEdges"/>
<rect x="770" y="282" width="1" height="7" fill="#26a69a" shape-rendering="crispEdges"/>
<rect x="768" y="283" width="5" height="4" fill="#26a69a" shape-rendering="crispEdges"/>
<rect x="775" y="275" width="1" height="9" fill="#26a69a" shape-rendering="crispEdges"/>
<rect x="773" y="276" width="5" height="8" fill="#26a69a" shape-rendering="crispEdges"/>
<rect x="781" y="274" width="1" height="15" fill="#ef5350" shape-rendering="crispEdges"/>
<rect x="779" y="276" width="5" height="4" fill="#ef5350" shape-rendering="crispEdges"/>
<rect x="786" y="279" width="1" height="27" fill="#ef5350" shape-rendering="crispEdges"/>
<rect x="784" y="280" width="5" height="26" fill="#ef5350" shape-rendering="crispEdges"/>
<rect x="792" y="306" width="1" height="40" fill="#ef5350" shape-rendering="crispEdges"/>
<rect x="790" y="306" width="5" height="33" fill="#ef5350" shape-rendering="crispEdges"/>
<rect x="797" y="329" width="1" height="16" fill="#26a69a" shape-rendering="crispEdges"/>
<rect x="795" y="338" width="5" height="1" fill="#26a69a" shape-rendering="crispEdges"/>
<rect x="803" y="327" width="1" height="30" fill="#26a69a" shape-rendering="crispEdges"/>
<rect x="801" y="328" width="5" height="10" fill="#26a69a" shape-rendering="crispEdges"/>
<rect x="808" y="322" width="1" height="18" fill="#ef5350" shape-rendering="crispEdges"/>
<rect x="806" y="328" width="5" height="10" fill="#ef5350" shape-rendering="crispEdges"/>
<rect x="814" y="319" width="1" height="19" fill="#26a69a" shape-rendering="crispEdges"/>
<rect x="812" y="322" width="5" height="16" fill="#26a69a" shape-rendering="crispEdges"/>
<rect x="819" y="280" width="1" height="45" fill="#26a69a" shape-rendering="crispEdges"/>
<rect x="817" y="280" width="5" height="43" fill="#26a69a" shape-rendering="crispEdges"/>
<rect x="825" y="262" width="1" height="22" fill="#26a69a" shape-rendering="crispEdges"/>
<rect x="823" y="276" width="5" height="5" fill="#26a69a" shape-rendering="crispEdges"/>
<rect x="830" y="252" width="1" height="25" fill="#26a69a" shape-rendering="crispEdges"/>
<rect x="828" y="267" width="5" height="10" fill="#26a69a" shape-rendering="crispEdges"/>
<rect x="836" y="258" width="1" height="14" fill="#26a69a" shape-rendering="crispEdges"/>
<rect x="834" y="262" width="5" height="6" fill="#26a69a" shape-rendering="crispEdges"/>
<rect x="841" y="254" width="1" height="23" fill="#ef5350" shape-rendering="crispEdges"/>
<rect x="839" y="262" width="5" height="15" fill="#ef5350" shape-rendering="crispEdges"/>
<rect x="847" y="276" width="1" height="11" fill="#ef5350" shape-rendering="crispEdges"/>
<rect x="845" y="276" width="5" height="8" fill="#ef5350" shape-rendering="crispEdges"/>
<rect x="852" y="278" width="1" height="36" fill="#ef5350" shape-rendering="crispEdges"/>
<rect x="850" y="284" width="5" height="10" fill="#ef5350" shape-rendering="crispEdges"/>
<rect x="858" y="284" width="1" height="11" fill="#26a69a" shape-rendering="crispEdges"/>
<rect x="856" y="285" width="5" height="9" fill="#26a69a" shape-rendering="crispEdges"/>
<rect x="863" y="284" width="1" height="6" fill="#ef5350" shape-rendering="crispEdges"/>
<rect x="861" y="286" width="5" height="1" fill="#ef5350" shape-rendering="crispEdges"/>
<rect x="869" y="287" width="1" height="15" fill="#ef5350" shape-rendering="crispEdges"/>
<rect x="867" y="287" width="5" height="13" fill="#ef5350" shape-rendering="crispEdges"/>
<rect x="874" y="284" width="1" height="26" fill="#26a69a" shape-rendering="crispEdges"/>
<rect x="872" y="289" width="5" height="11" fill="#26a69a" shape-rendering="crispEdges"/>
<rect x="880" y="288" width="1" height="12" fill="#ef5350" shape-rendering="crispEdges"/>
<rect x="878" y="289" width="5" height="11" fill="#ef5350" shape-rendering="crispEdges"/>
<rect x="886" y="285" width="1" height="17" fill="#26a69a" shape-rendering="crispEdges"/>
<rect x="884" y="285" width="5" height="15" fill="#26a69a" shape-rendering="crispEdges"/>
<rect x="891" y="286" width="1" height="5" fill="#ef5350" shape-rendering="crispEdges"/>
<rect x="889" y="286" width="5" height="3" fill="#ef5350" shape-rendering="crispEdges"/>
<rect x="897" y="277" width="1" height="15" fill="#26a69a" shape-rendering="crispEdges"/>
<rect x="895" y="280" width="5" height="9" fill="#26a69a" shape-rendering="crispEdges"/>
<rect x="902" y="274" width="1" height="10" fill="#ef5350" shape-rendering="crispEdges"/>
<rect x="900" y="280" width="5" height="4" fill="#ef5350" shape-rendering="crispEdges"/>
<rect x="908" y="275" width="1" height="25" fill="#26a69a" shape-rendering="crispEdges"/>
<rect x="906" y="278" width="5" height="6" fill="#26a69a" shape-rendering="crispEdges"/>
<rect x="913" y="256" width="1" height="31" fill="#26a69a" shape-rendering="crispEdges"/>
<rect x="911" y="266" width="5" height="13" fill="#26a69a" shape-rendering="crispEdges"/>
<rect x="919" y="261" width="1" height="71" fill="#ef5350" shape-rendering="crispEdges"/>
<rect x="917" y="266" width="5" height="65" fill="#ef5350" shape-rendering="crispEdges"/>
<rect x="924" y="315" width="1" height="38" fill="#26a69a" shape-rendering="crispEdges"/>
<rect x="922" y="322" width="5" height="8" fill="#26a69a" shape-rendering="crispEdges"/>
<rect x="930" y="316" width="1" height="20" fill="#ef5350" shape-rendering="crispEdges"/>
<rect x="928" y="322" width="5" height="4" fill="#ef5350" shape-rendering="crispEdges"/>
<rect x="935" y="321" width="1" height="11" fill="#ef5350" shape-rendering="crispEdges"/>
<rect x="933" y="326" width="5" height="6" fill="#ef5350" shape-rendering="crispEdges"/>
<rect x="941" y="328" width="1" height="13" fill="#ef5350" shape-rendering="crispEdges"/>
<rect x="939" y="332" width="5" height="7" fill="#ef5350" shape-rendering="crispEdges"/>
<rect x="946" y="336" width="1" height="14" fill="#ef5350" shape-rendering="crispEdges"/>
<rect x="944" y="339" width="5" height="8" fill="#ef5350" shape-rendering="crispEdges"/>
<rect x="952" y="329" width="1" height="34" fill="#ef5350" shape-rendering="crispEdges"/>
<rect x="950" y="347" width="5" height="1" fill="#ef5350" shape-rendering="crispEdges"/>
<rect x="957" y="344" width="1" height="45" fill="#ef5350" shape-rendering="crispEdges"/>
<rect x="955" y="347" width="5" height="20" fill="#ef5350" shape-rendering="crispEdges"/>
<rect x="963" y="359" width="1" height="31" fill="#ef5350" shape-rendering="crispEdges"/>
<rect x="961" y="367" width="5" height="19" fill="#ef5350" shape-rendering="crispEdges"/>
<rect x="968" y="374" width="1" height="12" fill="#26a69a" shape-rendering="crispEdges"/>
<rect x="966" y="382" width="5" height="4" fill="#26a69a" shape-rendering="crispEdges"/>
<rect x="974" y="375" width="1" height="25" fill="#ef5350" shape-rendering="crispEdges"/>
<rect x="972" y="382" width="5" height="12" fill="#ef5350" shape-rendering="crispEdges"/>
<rect x="979" y="386" width="1" height="28" fill="#26a69a" shape-rendering="crispEdges"/>
<rect x="977" y="387" width="5" height="7" fill="#26a69a" shape-rendering="crispEdges"/>
<rect x="985" y="379" width="1" height="11" fill="#26a69a" shape-rendering="crispEdges"/>
<rect x="983" y="385" width="5" height="2" fill="#26a69a" shape-rendering="crispEdges"/>
<rect x="990" y="367" width="1" height="20" fill="#26a69a" shape-rendering="crispEdges"/>
<rect x="988" y="370" width="5" height="15" fill="#26a69a" shape-rendering="crispEdges"/>
<rect x="996" y="367" width="1" height="19" fill="#ef5350" shape-rendering="crispEdges"/>
<rect x="994" y="370" width="5" height="10" fill="#ef5350" shape-rendering="crispEdges"/>
<rect x="1001" y="376" width="1" height="5" fill="#26a69a" shape-rendering="crispEdges"/>
<rect x="999" y="376" width="5" height="4" fill="#26a69a" shape-rendering="crispEdges"/>
<rect x="1007" y="372" width="1" height="4" fill="#26a69a" shape-rendering="crispEdges"/>
<rect x="1005" y="372" width="5" height="4" fill="#26a69a" shape-rendering="crispEdges"/>
<rect x="1012" y="370" width="1" height="8" fill="#ef5350" shape-rendering="crispEdges"/>
<rect x="1010" y="372" width="5" height="5" fill="#ef5350" shape-rendering="crispEdges"/>
<rect x="1018" y="375" width="1" height="7" fill="#ef5350" shape-rendering="crispEdges"/>
<rect x="1016" y="378" width="5" height="1" fill="#ef5350" shape-rendering="crispEdges"/>
<rect x="1024" y="375" width="1" height="9" fill="#26a69a" shape-rendering="crispEdges"/>
<rect x="1022" y="376" width="5" height="2" fill="#26a69a" shape-rendering="crispEdges"/>
<rect x="1029" y="370" width="1" height="6" fill="#26a69a" shape-rendering="crispEdges"/>
<rect x="1027" y="372" width="5" height="4" fill="#26a69a" shape-rendering="crispEdges"/>
<rect x="1035" y="367" width="1" height="5" fill="#26a69a" shape-rendering="crispEdges"/>
<rect x="1033" y="370" width="5" height="2" fill="#26a69a" shape-rendering="crispEdges"/>
<rect x="1040" y="360" width="1" height="10" fill="#26a69a" shape-rendering="crispEdges"/>
<rect x="1038" y="367" width="5" height="3" fill="#26a69a" shape-rendering="crispEdges"/>
<rect x="1046" y="364" width="1" height="8" fill="#26a69a" shape-rendering="crispEdges"/>
<rect x="1044" y="365" width="5" height="1" fill="#26a69a" shape-rendering="crispEdges"/>
<rect x="1051" y="361" width="1" height="8" fill="#ef5350" shape-rendering="crispEdges"/>
<rect x="1049" y="366" width="5" height="1" fill="#ef5350" shape-rendering="crispEdges"/>
<rect x="1057" y="364" width="1" height="38" fill="#ef5350" shape-rendering="crispEdges"/>
<rect x="1055" y="367" width="5" height="35" fill="#ef5350" shape-rendering="crispEdges"/>
<rect x="1062" y="389" width="1" height="28" fill="#26a69a" shape-rendering="crispEdges"/>
<rect x="1060" y="401" width="5" height="1" fill="#26a69a" shape-rendering="crispEdges"/>
<rect x="1068" y="398" width="1" height="16" fill="#ef5350" shape-rendering="crispEdges"/>
<rect x="1066" y="401" width="5" height="10" fill="#ef5350" shape-rendering="crispEdges"/>
<rect x="1073" y="403" width="1" height="21" fill="#ef5350" shape-rendering="crispEdges"/>
<rect x="1071" y="411" width="5" height="12" fill="#ef5350" shape-rendering="crispEdges"/>
<rect x="1079" y="410" width="1" height="22" fill="#26a69a" shape-rendering="crispEdges"/>
<rect x="1077" y="422" width="5" height="1" fill="#26a69a" shape-rendering="crispEdges"/>
<rect x="1084" y="407" width="1" height="16" fill="#26a69a" shape-rendering="crispEdges"/>
<rect x="1082" y="417" width="5" height="5" fill="#26a69a" shape-rendering="crispEdges"/>
<rect x="1090" y="403" width="1" height="31" fill="#26a69a" shape-rendering="crispEdges"/>
<rect x="1088" y="409" width="5" height="9" fill="#26a69a" shape-rendering="crispEdges"/>
<rect x="1095" y="405" width="1" height="13" fill="#ef5350" shape-rendering="crispEdges"/>
<rect x="1093" y="409" width="5" height="1" fill="#ef5350" shape-rendering="crispEdges"/>
<rect x="1101" y="403" width="1" height="14" fill="#26a69a" shape-rendering="crispEdges"/>
<rect x="1099" y="407" width="5" height="3" fill="#26a69a" shape-rendering="crispEdges"/>
<rect x="1106" y="404" width="1" height="7" fill="#26a69a" shape-rendering="crispEdges"/>
<rect x="1104" y="406" width="5" height="2" fill="#26a69a" shape-rendering="crispEdges"/>
<rect x="1112" y="406" width="1" height="13" fill="#ef5350" shape-rendering="crispEdges"/>
<rect x="1110" y="406" width="5" height="1" fill="#ef5350" shape-rendering="crispEdges"/>
<rect x="1117" y="394" width="1" height="12" fill="#26a69a" shape-rendering="crispEdges"/>
<rect x="1115" y="402" width="5" height="4" fill="#26a69a" shape-rendering="crispEdges"/>
<rect x="1123" y="401" width="1" height="6" fill="#ef5350" shape-rendering="crispEdges"/>
<rect x="1121" y="402" width="5" height="5" fill="#ef5350" shape-rendering="crispEdges"/>
<rect x="1128" y="406" width="1" height="6" fill="#ef5350" shape-rendering="crispEdges"/>
<rect x="1126" y="406" width="5" height="6" fill="#ef5350" shape-rendering="crispEdges"/>
<rect x="1134" y="400" width="1" height="12" fill="#26a69a" shape-rendering="crispEdges"/>
<rect x="1132" y="406" width="5" height="6" fill="#26a69a" shape-rendering="crispEdges"/>
<rect x="1139" y="403" width="1" height="3" fill="#26a69a" shape-rendering="crispEdges"/>
<rect x="1137" y="404" width="5" height="1" fill="#26a69a" shape-rendering="crispEdges"/>
<rect x="1145" y="403" width="1" height="17" fill="#ef5350" shape-rendering="crispEdges"/>
<rect x="1143" y="404" width="5" height="15" fill="#ef5350" shape-rendering="crispEdges"/>
<rect x="1150" y="409" width="1" height="18" fill="#26a69a" shape-rendering="crispEdges"/>
<rect x="1148" y="412" width="5" height="7" fill="#26a69a" shape-rendering="crispEdges"/>
<rect x="1156" y="407" width="1" height="7" fill="#26a69a" shape-rendering="crispEdges"/>
<rect x="1154" y="407" width="5" height="5" fill="#26a69a" shape-rendering="crispEdges"/>
<rect x="1162" y="402" width="1" height="10" fill="#26a69a" shape-rendering="crispEdges"/>
<rect x="1160" y="404" width="5" height="3" fill="#26a69a" shape-rendering="crispEdges"/>
<rect x="1167" y="398" width="1" height="6" fill="#26a69a" shape-rendering="crispEdges"/>
<rect x="1165" y="401" width="5" height="3" fill="#26a69a" shape-rendering="crispEdges"/>
<rect x="1173" y="396" width="1" height="8" fill="#26a69a" shape-rendering="crispEdges"/>
<rect x="1171" y="396" width="5" height="5" fill="#26a69a" shape-rendering="crispEdges"/>
<rect x="1178" y="395" width="1" height="9" fill="#ef5350" shape-rendering="crispEdges"/>
<rect x="1176" y="396" width="5" height="8" fill="#ef5350" shape-rendering="crispEdges"/>
<rect x="1184" y="402" width="1" height="48" fill="#ef5350" shape-rendering="crispEdges"/>
<rect x="1182" y="404" width="5" height="38" fill="#ef5350" shape-rendering="crispEdges"/>
<rect x="1189" y="442" width="1" height="20" fill="#ef5350" shape-rendering="crispEdges"/>
<rect x="1187" y="442" width="5" height="17" fill="#ef5350" shape-rendering="crispEdges"/>
<rect x="1195" y="457" width="1" height="16" fill="#ef5350" shape-rendering="crispEdges"/>
<rect x="1193" y="458" width="5" height="14" fill="#ef5350" shape-rendering="crispEdges"/>
<rect x="1200" y="468" width="1" height="50" fill="#ef5350" shape-rendering="crispEdges"/>
<rect x="1198" y="471" width="5" height="26" fill="#ef5350" shape-rendering="crispEdges"/>
<rect x="1206" y="463" width="1" height="37" fill="#26a69a" shape-rendering="crispEdges"/>
<rect x="1204" y="468" width="5" height="29" fill="#26a69a" shape-rendering="crispEdges"/>
<rect x="1211" y="445" width="1" height="24" fill="#26a69a" shape-rendering="crispEdges"/>
<rect x="1209" y="453" width="5" height="16" fill="#26a69a" shape-rendering="crispEdges"/>
<rect x="1217" y="442" width="1" height="23" fill="#ef5350" shape-rendering="crispEdges"/>
<rect x="1215" y="453" width="5" height="4" fill="#ef5350" shape-rendering="crispEdges"/>
<rect x="1222" y="456" width="1" height="24" fill="#ef5350" shape-rendering="crispEdges"/>
<rect x="1220" y="456" width="5" height="22" fill="#ef5350" shape-rendering="crispEdges"/>
<rect x="1228" y="456" width="1" height="24" fill="#26a69a" shape-rendering="crispEdges"/>
<rect x="1226" y="470" width="5" height="8" fill="#26a69a" shape-rendering="crispEdges"/>
<rect x="1233" y="468" width="1" height="24" fill="#ef5350" shape-rendering="crispEdges"/>
<rect x="1231" y="470" width="5" height="18" fill="#ef5350" shape-rendering="crispEdges"/>
<rect x="1239" y="482" width="1" height="81" fill="#ef5350" shape-rendering="crispEdges"/>
<rect x="1237" y="487" width="5" height="62" fill="#ef5350" shape-rendering="crispEdges"/>
<rect x="1244" y="549" width="1" height="120" fill="#ef5350" shape-rendering="crispEdges"/>
<rect x="1242" y="549" width="5" height="55" fill="#ef5350" shape-rendering="crispEdges"/>
<rect x="1250" y="595" width="1" height="35" fill="#26a69a" shape-rendering="crispEdges"/>
<rect x="1248" y="595" width="5" height="9" fill="#26a69a" shape-rendering="crispEdges"/>
<rect x="1255" y="595" width="1" height="28" fill="#ef5350" shape-rendering="crispEdges"/>
<rect x="1253" y="595" width="5" height="27" fill="#ef5350" shape-rendering="crispEdges"/>
<rect x="1261" y="599" width="1" height="36" fill="#ef5350" shape-rendering="crispEdges"/>
<rect x="1259" y="621" width="5" height="11" fill="#ef5350" shape-rendering="crispEdges"/>
<rect x="1266" y="622" width="1" height="49" fill="#ef5350" shape-rendering="crispEdges"/>
<rect x="1264" y="632" width="5" height="26" fill="#ef5350" shape-rendering="crispEdges"/>
<rect x="1272" y="657" width="1" height="116" fill="#ef5350" shape-rendering="crispEdges"/>
<rect x="1270" y="657" width="5" height="36" fill="#ef5350" shape-rendering="crispEdges"/>
<rect x="1277" y="646" width="1" height="53" fill="#26a69a" shape-rendering="crispEdges"/>
<rect x="1275" y="659" width="5" height="34" fill="#26a69a" shape-rendering="crispEdges"/>
<rect x="1283" y="642" width="1" height="29" fill="#26a69a" shape-rendering="crispEdges"/>
<rect x="1281" y="656" width="5" height="3" fill="#26a69a" shape-rendering="crispEdges"/>
<rect x="1289" y="651" width="1" height="37" fill="#ef5350" shape-rendering="crispEdges"/>
<rect x="1287" y="656" width="5" height="3" fill="#ef5350" shape-rendering="crispEdges"/>
<rect x="1294" y="659" width="1" height="63" fill="#ef5350" shape-rendering="crispEdges"/>
<rect x="1292" y="659" width="5" height="41" fill="#ef5350" shape-rendering="crispEdges"/>
<rect x="1300" y="683" width="1" height="40" fill="#ef5350" shape-rendering="crispEdges"/>
<rect x="1298" y="699" width="5" height="2" fill="#ef5350" shape-rendering="crispEdges"/>
<rect x="1305" y="694" width="1" height="63" fill="#ef5350" shape-rendering="crispEdges"/>
<rect x="1303" y="701" width="5" height="49" fill="#ef5350" shape-rendering="crispEdges"/>
<rect x="1311" y="663" width="1" height="91" fill="#26a69a" shape-rendering="crispEdges"/>
<rect x="1309" y="681" width="5" height="69" fill="#26a69a" shape-rendering="crispEdges"/>
<rect x="1316" y="601" width="1" height="80" fill="#26a69a" shape-rendering="crispEdges"/>
<rect x="1314" y="615" width="5" height="66" fill="#26a69a" shape-rendering="crispEdges"/>
<rect x="1322" y="587" width="1" height="45" fill="#26a69a" shape-rendering="crispEdges"/>
<rect x="1320" y="607" width="5" height="8" fill="#26a69a" shape-rendering="crispEdges"/>
<rect x="1327" y="567" width="1" height="49" fill="#ef5350" shape-rendering="crispEdges"/>
<rect x="1325" y="607" width="5" height="9" fill="#ef5350" shape-rendering="crispEdges"/>
<rect x="1333" y="584" width="1" height="40" fill="#26a69a" shape-rendering="crispEdges"/>
<rect x="1331" y="595" width="5" height="21" fill="#26a69a" shape-rendering="crispEdges"/>
<rect x="1338" y="595" width="1" height="54" fill="#ef5350" shape-rendering="crispEdges"/>
<rect x="1336" y="595" width="5" height="51" fill="#ef5350" shape-rendering="crispEdges"/>
<rect x="1344" y="630" width="1" height="21" fill="#26a69a" shape-rendering="crispEdges"/>
<rect x="1342" y="634" width="5" height="12" fill="#26a69a" shape-rendering="crispEdges"/>
<rect x="1349" y="604" width="1" height="30" fill="#26a69a" shape-rendering="crispEdges"/>
<rect x="1347" y="605" width="5" height="29" fill="#26a69a" shape-rendering="crispEdges"/>
<rect x="1355" y="580" width="1" height="29" fill="#ef5350" shape-rendering="crispEdges"/>
<rect x="1353" y="605" width="5" height="1" fill="#ef5350" shape-rendering="crispEdges"/>
<rect x="1360" y="588" width="1" height="23" fill="#26a69a" shape-rendering="crispEdges"/>
<rect x="1358" y="595" width="5" height="11" fill="#26a69a" shape-rendering="crispEdges"/>
<rect x="1366" y="583" width="1" height="38" fill="#ef5350" shape-rendering="crispEdges"/>
<rect x="1364" y="595" width="5" height="23" fill="#ef5350" shape-rendering="crispEdges"/>
<rect x="1371" y="553" width="1" height="65" fill="#26a69a" shape-rendering="crispEdges"/>
<rect x="1369" y="553" width="5" height="65" fill="#26a69a" shape-rendering="crispEdges"/>
<rect x="1377" y="546" width="1" height="26" fill="#ef5350" shape-rendering="crispEdges"/>
<rect x="1375" y="553" width="5" height="11" fill="#ef5350" shape-rendering="crispEdges"/>
<rect x="1382" y="553" width="1" height="12" fill="#26a69a" shape-rendering="crispEdges"/>
<rect x="1380" y="560" width="5" height="4" fill="#26a69a" shape-rendering="crispEdges"/>
<rect x="1388" y="558" width="1" height="13" fill="#ef5350" shape-rendering="crispEdges"/>
<rect x="1386" y="559" width="5" height="6" fill="#ef5350" shape-rendering="crispEdges"/>
<rect x="1393" y="562" width="1" height="16" fill="#ef5350" shape-rendering="crispEdges"/>
<rect x="1391" y="565" width="5" height="6" fill="#ef5350" shape-rendering="crispEdges"/>
<rect x="1399" y="555" width="1" height="23" fill="#26a69a" shape-rendering="crispEdges"/>
<rect x="1397" y="557" width="5" height="14" fill="#26a69a" shape-rendering="crispEdges"/>
<rect x="1404" y="553" width="1" height="15" fill="#ef5350" shape-rendering="crispEdges"/>
<rect x="1402" y="557" width="5" height="5" fill="#ef5350" shape-rendering="crispEdges"/>
<rect x="1410" y="549" width="1" height="22" fill="#26a69a" shape-rendering="crispEdges"/>
<rect x="1408" y="555" width="5" height="7" fill="#26a69a" shape-rendering="crispEdges"/>
<rect x="1415" y="551" width="1" height="47" fill="#ef5350" shape-rendering="crispEdges"/>
<rect x="1413" y="555" width="5" height="32" fill="#ef5350" shape-rendering="crispEdges"/>
<rect x="1421" y="576" width="1" height="22" fill="#26a69a" shape-rendering="crispEdges"/>
<rect x="1419" y="579" width="5" height="8" fill="#26a69a" shape-rendering="crispEdges"/>
<rect x="1427" y="578" width="1" height="7" fill="#ef5350" shape-rendering="crispEdges"/>
<rect x="1425" y="580" width="5" height="1" fill="#ef5350" shape-rendering="crispEdges"/>
</g>
<g clip-path="url(#cr)">
<rect x="2" y="845" width="1" height="203" fill="#f1f1f2"/>
<rect x="135" y="845" width="1" height="203" fill="#f1f1f2"/>
<rect x="267" y="845" width="1" height="203" fill="#f1f1f2"/>
<rect x="400" y="845" width="1" height="203" fill="#f1f1f2"/>
<rect x="532" y="845" width="1" height="203" fill="#f1f1f2"/>
<rect x="665" y="845" width="1" height="203" fill="#f1f1f2"/>
<rect x="797" y="845" width="1" height="203" fill="#f1f1f2"/>
<rect x="930" y="845" width="1" height="203" fill="#f1f1f2"/>
<rect x="1062" y="845" width="1" height="203" fill="#f1f1f2"/>
<rect x="1195" y="845" width="1" height="203" fill="#f1f1f2"/>
<rect x="1327" y="845" width="1" height="203" fill="#f1f1f2"/>
<rect x="1460" y="845" width="1" height="203" fill="#f1f1f2"/>
<rect x="3" y="884.90" width="1544" height="1" fill="#f1f1f2"/>
<rect x="3" y="938.50" width="1544" height="1" fill="#f1f1f2"/>
<rect x="3" y="992.10" width="1544" height="1" fill="#f1f1f2"/>
<rect x="3" y="1045.70" width="1544" height="1" fill="#f1f1f2"/>
<rect x="3" y="912.20" width="1544" height="107.20" fill="rgba(126,87,194,0.1)"/>
<defs><linearGradient id="gos2" gradientUnits="userSpaceOnUse" x1="0" y1="1019.40" x2="0" y2="1099.80"><stop offset="0" stop-color="rgb(255,82,82)" stop-opacity="0"/><stop offset="1" stop-color="rgb(255,82,82)" stop-opacity="1"/></linearGradient>
<linearGradient id="gob2" gradientUnits="userSpaceOnUse" x1="0" y1="912.20" x2="0" y2="831.80"><stop offset="0" stop-color="rgb(0,230,118)" stop-opacity="0"/><stop offset="1" stop-color="rgb(0,230,118)" stop-opacity="1"/></linearGradient>
<clipPath id="cos"><rect x="0" y="1019.40" width="1647" height="300"/></clipPath><clipPath id="cob"><rect x="0" y="0" width="1647" height="912.20"/></clipPath></defs>
<polygon points="2.50,1019.40 2.50,930.07 8.50,929.67 13.50,923.42 19.50,911.87 24.50,941.04 30.50,926.16 35.50,926.16 41.50,929.72 46.50,932.74 52.50,942.12 57.50,929.84 63.50,942.21 68.50,939.98 74.50,938.13 80.50,931.26 85.50,936.19 91.50,938.15 96.50,928.65 102.50,933.90 107.50,931.40 113.50,923.04 118.50,899.09 124.50,915.15 129.50,923.69 135.50,933.10 140.50,942.00 146.50,941.24 151.50,958.61 157.50,978.13 162.50,938.78 168.50,948.68 173.50,974.27 179.50,971.01 184.50,967.24 190.50,964.95 195.50,973.02 201.50,991.39 207.50,988.21 212.50,984.65 218.50,982.66 223.50,988.25 229.50,985.10 234.50,979.34 240.50,965.80 245.50,958.82 251.50,959.76 256.50,972.02 262.50,976.39 267.50,973.95 273.50,957.33 278.50,946.04 284.50,953.14 289.50,961.24 295.50,957.58 300.50,959.62 306.50,947.44 311.50,927.74 317.50,940.59 322.50,909.66 328.50,922.33 333.50,919.75 339.50,913.69 345.50,918.18 350.50,920.98 356.50,924.84 361.50,920.70 367.50,920.70 372.50,921.85 378.50,913.41 383.50,949.10 389.50,991.13 394.50,993.45 400.50,1021.64 405.50,1017.96 411.50,1000.39 416.50,1003.84 422.50,999.75 427.50,993.40 433.50,1001.73 438.50,1012.48 444.50,1016.01 449.50,1024.76 455.50,1012.61 460.50,1003.87 466.50,996.16 471.50,1004.66 477.50,991.15 483.50,984.45 488.50,990.01 494.50,994.88 499.50,995.28 505.50,995.49 510.50,989.92 516.50,1000.80 521.50,1017.37 527.50,996.54 532.50,998.09 538.50,1006.91 543.50,1008.36 549.50,1001.91 554.50,988.24 560.50,981.75 565.50,985.08 571.50,987.70 576.50,977.65 582.50,979.15 587.50,988.80 593.50,991.63 598.50,1002.80 604.50,977.69 609.50,963.30 615.50,974.54 621.50,971.92 626.50,974.40 632.50,986.23 637.50,977.70 643.50,975.84 648.50,954.87 654.50,961.85 659.50,963.61 665.50,964.36 670.50,947.31 676.50,958.29 681.50,1008.47 687.50,1023.58 692.50,1004.20 698.50,1003.77 703.50,1013.05 709.50,1012.26 714.50,1023.00 720.50,1024.79 725.50,1028.00 731.50,1032.04 736.50,1002.39 742.50,1004.10 748.50,999.65 753.50,990.20 759.50,991.62 764.50,985.99 770.50,981.31 775.50,969.29 781.50,976.15 786.50,1005.14 792.50,1027.68 797.50,1027.06 803.50,1011.40 808.50,1018.30 814.50,996.67 819.50,954.88 825.50,951.95 830.50,944.76 836.50,941.31 841.50,956.30 847.50,963.43 852.50,972.00 858.50,963.65 863.50,966.08 869.50,977.93 874.50,966.98 880.50,976.90 886.50,962.11 891.50,965.81 897.50,957.48 902.50,961.42 908.50,955.73 913.50,944.68 919.50,998.24 924.50,990.41 930.50,992.80 935.50,996.77 941.50,1001.15 946.50,1006.18 952.50,1006.43 957.50,1018.09 963.50,1027.38 968.50,1022.75 974.50,1028.54 979.50,1019.65 985.50,1016.53 990.50,998.59 996.50,1005.44 1001.50,1000.04 1007.50,995.44 1012.50,999.44 1018.50,1000.26 1024.50,996.06 1029.50,991.48 1035.50,987.70 1040.50,983.83 1046.50,980.18 1051.50,981.90 1057.50,1017.27 1062.50,1015.78 1068.50,1022.95 1073.50,1030.73 1079.50,1028.21 1084.50,1020.49 1090.50,1006.24 1095.50,1006.89 1101.50,1002.14 1106.50,999.87 1112.50,1000.58 1117.50,991.60 1123.50,997.46 1128.50,1004.54 1134.50,990.02 1139.50,986.77 1145.50,1005.88 1150.50,993.46 1156.50,984.03 1162.50,978.33 1167.50,972.64 1173.50,963.75 1178.50,977.25 1184.50,1018.17 1189.50,1029.08 1195.50,1036.41 1200.50,1047.58 1206.50,1009.33 1211.50,993.22 1217.50,995.54 1222.50,1009.14 1228.50,999.89 1233.50,1010.35 1239.50,1035.58 1244.50,1049.29 1250.50,1041.33 1255.50,1047.31 1261.50,1049.58 1266.50,1054.46 1272.50,1060.39 1277.50,1033.28 1283.50,1031.20 1289.50,1031.96 1294.50,1041.89 1300.50,1042.27 1305.50,1051.94 1311.50,1006.83 1316.50,976.40 1322.50,973.42 1327.50,976.77 1333.50,967.77 1338.50,986.17 1344.50,980.88 1349.50,968.74 1355.50,968.90 1360.50,964.42 1366.50,973.85 1371.50,948.41 1377.50,953.03 1382.50,951.46 1388.50,954.27 1393.50,956.93 1399.50,951.08 1404.50,953.42 1410.50,950.40 1415.50,968.08 1421.50,963.87 1427.50,964.73 1427.50,1019.40" fill="url(#gos2)" clip-path="url(#cos)"/>
<polygon points="2.50,1019.40 2.50,930.07 8.50,929.67 13.50,923.42 19.50,911.87 24.50,941.04 30.50,926.16 35.50,926.16 41.50,929.72 46.50,932.74 52.50,942.12 57.50,929.84 63.50,942.21 68.50,939.98 74.50,938.13 80.50,931.26 85.50,936.19 91.50,938.15 96.50,928.65 102.50,933.90 107.50,931.40 113.50,923.04 118.50,899.09 124.50,915.15 129.50,923.69 135.50,933.10 140.50,942.00 146.50,941.24 151.50,958.61 157.50,978.13 162.50,938.78 168.50,948.68 173.50,974.27 179.50,971.01 184.50,967.24 190.50,964.95 195.50,973.02 201.50,991.39 207.50,988.21 212.50,984.65 218.50,982.66 223.50,988.25 229.50,985.10 234.50,979.34 240.50,965.80 245.50,958.82 251.50,959.76 256.50,972.02 262.50,976.39 267.50,973.95 273.50,957.33 278.50,946.04 284.50,953.14 289.50,961.24 295.50,957.58 300.50,959.62 306.50,947.44 311.50,927.74 317.50,940.59 322.50,909.66 328.50,922.33 333.50,919.75 339.50,913.69 345.50,918.18 350.50,920.98 356.50,924.84 361.50,920.70 367.50,920.70 372.50,921.85 378.50,913.41 383.50,949.10 389.50,991.13 394.50,993.45 400.50,1021.64 405.50,1017.96 411.50,1000.39 416.50,1003.84 422.50,999.75 427.50,993.40 433.50,1001.73 438.50,1012.48 444.50,1016.01 449.50,1024.76 455.50,1012.61 460.50,1003.87 466.50,996.16 471.50,1004.66 477.50,991.15 483.50,984.45 488.50,990.01 494.50,994.88 499.50,995.28 505.50,995.49 510.50,989.92 516.50,1000.80 521.50,1017.37 527.50,996.54 532.50,998.09 538.50,1006.91 543.50,1008.36 549.50,1001.91 554.50,988.24 560.50,981.75 565.50,985.08 571.50,987.70 576.50,977.65 582.50,979.15 587.50,988.80 593.50,991.63 598.50,1002.80 604.50,977.69 609.50,963.30 615.50,974.54 621.50,971.92 626.50,974.40 632.50,986.23 637.50,977.70 643.50,975.84 648.50,954.87 654.50,961.85 659.50,963.61 665.50,964.36 670.50,947.31 676.50,958.29 681.50,1008.47 687.50,1023.58 692.50,1004.20 698.50,1003.77 703.50,1013.05 709.50,1012.26 714.50,1023.00 720.50,1024.79 725.50,1028.00 731.50,1032.04 736.50,1002.39 742.50,1004.10 748.50,999.65 753.50,990.20 759.50,991.62 764.50,985.99 770.50,981.31 775.50,969.29 781.50,976.15 786.50,1005.14 792.50,1027.68 797.50,1027.06 803.50,1011.40 808.50,1018.30 814.50,996.67 819.50,954.88 825.50,951.95 830.50,944.76 836.50,941.31 841.50,956.30 847.50,963.43 852.50,972.00 858.50,963.65 863.50,966.08 869.50,977.93 874.50,966.98 880.50,976.90 886.50,962.11 891.50,965.81 897.50,957.48 902.50,961.42 908.50,955.73 913.50,944.68 919.50,998.24 924.50,990.41 930.50,992.80 935.50,996.77 941.50,1001.15 946.50,1006.18 952.50,1006.43 957.50,1018.09 963.50,1027.38 968.50,1022.75 974.50,1028.54 979.50,1019.65 985.50,1016.53 990.50,998.59 996.50,1005.44 1001.50,1000.04 1007.50,995.44 1012.50,999.44 1018.50,1000.26 1024.50,996.06 1029.50,991.48 1035.50,987.70 1040.50,983.83 1046.50,980.18 1051.50,981.90 1057.50,1017.27 1062.50,1015.78 1068.50,1022.95 1073.50,1030.73 1079.50,1028.21 1084.50,1020.49 1090.50,1006.24 1095.50,1006.89 1101.50,1002.14 1106.50,999.87 1112.50,1000.58 1117.50,991.60 1123.50,997.46 1128.50,1004.54 1134.50,990.02 1139.50,986.77 1145.50,1005.88 1150.50,993.46 1156.50,984.03 1162.50,978.33 1167.50,972.64 1173.50,963.75 1178.50,977.25 1184.50,1018.17 1189.50,1029.08 1195.50,1036.41 1200.50,1047.58 1206.50,1009.33 1211.50,993.22 1217.50,995.54 1222.50,1009.14 1228.50,999.89 1233.50,1010.35 1239.50,1035.58 1244.50,1049.29 1250.50,1041.33 1255.50,1047.31 1261.50,1049.58 1266.50,1054.46 1272.50,1060.39 1277.50,1033.28 1283.50,1031.20 1289.50,1031.96 1294.50,1041.89 1300.50,1042.27 1305.50,1051.94 1311.50,1006.83 1316.50,976.40 1322.50,973.42 1327.50,976.77 1333.50,967.77 1338.50,986.17 1344.50,980.88 1349.50,968.74 1355.50,968.90 1360.50,964.42 1366.50,973.85 1371.50,948.41 1377.50,953.03 1382.50,951.46 1388.50,954.27 1393.50,956.93 1399.50,951.08 1404.50,953.42 1410.50,950.40 1415.50,968.08 1421.50,963.87 1427.50,964.73 1427.50,1019.40" fill="url(#gob2)" clip-path="url(#cob)"/>
<line x1="3" y1="912.20" x2="1547" y2="912.20" stroke="#787b86" stroke-opacity="1" stroke-width="1" stroke-dasharray="5,5"/>
<line x1="3" y1="965.80" x2="1547" y2="965.80" stroke="#787b86" stroke-opacity="0.5" stroke-width="1" stroke-dasharray="5,5"/>
<line x1="3" y1="1019.40" x2="1547" y2="1019.40" stroke="#787b86" stroke-opacity="1" stroke-width="1" stroke-dasharray="5,5"/>
<polyline points="3.40,914.00 25.50,918.80 51.00,926.80 68.00,931.90 74.50,931.65 80.50,931.74 85.50,932.20 91.50,933.26 96.50,934.45 102.50,933.94 107.50,934.32 113.50,934.10 118.50,931.91 124.50,930.65 129.50,929.34 135.50,929.57 140.50,929.55 146.50,929.64 151.50,931.11 157.50,934.45 162.50,934.64 168.50,935.39 173.50,938.65 179.50,941.30 184.50,943.86 190.50,946.85 195.50,952.13 201.50,957.58 207.50,962.19 212.50,965.87 218.50,968.77 223.50,972.13 229.50,974.02 234.50,974.11 240.50,976.04 245.50,976.76 251.50,975.73 256.50,975.80 262.50,976.45 267.50,977.10 273.50,975.98 278.50,972.74 284.50,970.23 289.50,968.56 295.50,966.77 300.50,964.72 306.50,962.03 311.50,958.35 317.50,956.55 322.50,953.04 328.50,950.36 333.50,946.63 339.50,942.15 345.50,938.17 350.50,935.57 356.50,934.06 361.50,931.74 367.50,928.84 372.50,926.29 378.50,922.99 383.50,923.11 389.50,927.64 394.50,931.41 400.50,939.41 405.50,946.24 411.50,952.00 416.50,958.44 422.50,964.27 427.50,969.44 433.50,974.93 438.50,981.49 444.50,988.30 449.50,995.65 455.50,1002.73 460.50,1006.64 466.50,1007.00 471.50,1007.80 477.50,1005.63 483.50,1003.23 488.50,1002.49 494.50,1001.85 499.50,1001.53 505.50,1001.68 510.50,1000.84 516.50,1000.00 521.50,1000.10 527.50,998.09 532.50,997.05 538.50,997.26 543.50,998.14 549.50,997.94 554.50,997.73 560.50,997.54 565.50,997.19 571.50,996.67 576.50,995.41 582.50,994.25 587.50,994.17 593.50,993.51 598.50,992.47 604.50,991.12 609.50,988.64 615.50,986.33 621.50,983.73 626.50,981.76 632.50,981.62 637.50,981.33 643.50,980.67 648.50,978.32 654.50,977.19 659.50,976.09 665.50,974.34 670.50,971.17 676.50,967.99 681.50,970.19 687.50,974.50 692.50,976.62 698.50,978.89 703.50,981.65 709.50,983.51 714.50,986.75 720.50,990.24 725.50,995.47 731.50,1000.48 736.50,1003.25 742.50,1006.09 748.50,1009.83 753.50,1012.11 759.50,1010.90 764.50,1008.22 770.50,1006.58 775.50,1004.12 781.50,1001.48 786.50,1000.98 792.50,1001.31 797.50,1001.47 803.50,1000.29 808.50,999.30 814.50,998.90 819.50,995.38 825.50,991.97 830.50,988.73 836.50,985.13 841.50,983.01 847.50,981.74 852.50,981.93 858.50,981.04 863.50,978.25 869.50,974.69 874.50,970.40 880.50,967.94 886.50,963.92 891.50,961.72 897.50,961.91 902.50,962.58 908.50,963.37 913.50,963.61 919.50,966.60 924.50,968.53 930.50,970.01 935.50,972.38 941.50,974.88 946.50,976.90 952.50,979.72 957.50,982.66 963.50,987.32 968.50,991.39 974.50,996.47 979.50,1000.63 985.50,1004.97 990.50,1008.82 996.50,1009.34 1001.50,1010.03 1007.50,1010.21 1012.50,1010.40 1018.50,1010.34 1024.50,1009.62 1029.50,1008.55 1035.50,1006.38 1040.50,1003.27 1046.50,1000.23 1051.50,996.90 1057.50,996.73 1062.50,996.67 1068.50,998.41 1073.50,1000.22 1079.50,1002.23 1084.50,1004.02 1090.50,1004.50 1095.50,1004.98 1101.50,1005.41 1106.50,1006.01 1112.50,1006.93 1117.50,1007.49 1123.50,1008.72 1128.50,1010.34 1134.50,1008.39 1139.50,1006.32 1145.50,1005.10 1150.50,1002.44 1156.50,999.28 1162.50,996.27 1167.50,993.87 1173.50,990.79 1178.50,989.01 1184.50,990.32 1189.50,992.36 1195.50,995.56 1200.50,999.14 1206.50,999.48 1211.50,999.71 1217.50,1000.33 1222.50,1000.57 1228.50,1001.02 1233.50,1002.90 1239.50,1006.99 1244.50,1012.47 1250.50,1018.01 1255.50,1023.01 1261.50,1025.26 1266.50,1027.07 1272.50,1028.78 1277.50,1027.76 1283.50,1029.33 1289.50,1032.09 1294.50,1035.40 1300.50,1037.77 1305.50,1041.49 1311.50,1041.24 1316.50,1037.01 1322.50,1031.59 1327.50,1026.98 1333.50,1021.30 1338.50,1016.77 1344.50,1011.51 1349.50,1004.97 1355.50,1000.37 1360.50,995.60 1366.50,991.45 1371.50,984.77 1377.50,978.40 1382.50,971.22 1388.50,967.46 1393.50,966.07 1399.50,964.48 1404.50,962.81 1410.50,961.57 1415.50,960.28 1421.50,959.06 1427.50,958.77" fill="none" stroke="#f9e04b" stroke-width="1.25" stroke-linejoin="round"/>
<polyline points="2.50,930.07 8.50,929.67 13.50,923.42 19.50,911.87 24.50,941.04 30.50,926.16 35.50,926.16 41.50,929.72 46.50,932.74 52.50,942.12 57.50,929.84 63.50,942.21 68.50,939.98 74.50,938.13 80.50,931.26 85.50,936.19 91.50,938.15 96.50,928.65 102.50,933.90 107.50,931.40 113.50,923.04 118.50,899.09 124.50,915.15 129.50,923.69 135.50,933.10 140.50,942.00 146.50,941.24 151.50,958.61 157.50,978.13 162.50,938.78 168.50,948.68 173.50,974.27 179.50,971.01 184.50,967.24 190.50,964.95 195.50,973.02 201.50,991.39 207.50,988.21 212.50,984.65 218.50,982.66 223.50,988.25 229.50,985.10 234.50,979.34 240.50,965.80 245.50,958.82 251.50,959.76 256.50,972.02 262.50,976.39 267.50,973.95 273.50,957.33 278.50,946.04 284.50,953.14 289.50,961.24 295.50,957.58 300.50,959.62 306.50,947.44 311.50,927.74 317.50,940.59 322.50,909.66 328.50,922.33 333.50,919.75 339.50,913.69 345.50,918.18 350.50,920.98 356.50,924.84 361.50,920.70 367.50,920.70 372.50,921.85 378.50,913.41 383.50,949.10 389.50,991.13 394.50,993.45 400.50,1021.64 405.50,1017.96 411.50,1000.39 416.50,1003.84 422.50,999.75 427.50,993.40 433.50,1001.73 438.50,1012.48 444.50,1016.01 449.50,1024.76 455.50,1012.61 460.50,1003.87 466.50,996.16 471.50,1004.66 477.50,991.15 483.50,984.45 488.50,990.01 494.50,994.88 499.50,995.28 505.50,995.49 510.50,989.92 516.50,1000.80 521.50,1017.37 527.50,996.54 532.50,998.09 538.50,1006.91 543.50,1008.36 549.50,1001.91 554.50,988.24 560.50,981.75 565.50,985.08 571.50,987.70 576.50,977.65 582.50,979.15 587.50,988.80 593.50,991.63 598.50,1002.80 604.50,977.69 609.50,963.30 615.50,974.54 621.50,971.92 626.50,974.40 632.50,986.23 637.50,977.70 643.50,975.84 648.50,954.87 654.50,961.85 659.50,963.61 665.50,964.36 670.50,947.31 676.50,958.29 681.50,1008.47 687.50,1023.58 692.50,1004.20 698.50,1003.77 703.50,1013.05 709.50,1012.26 714.50,1023.00 720.50,1024.79 725.50,1028.00 731.50,1032.04 736.50,1002.39 742.50,1004.10 748.50,999.65 753.50,990.20 759.50,991.62 764.50,985.99 770.50,981.31 775.50,969.29 781.50,976.15 786.50,1005.14 792.50,1027.68 797.50,1027.06 803.50,1011.40 808.50,1018.30 814.50,996.67 819.50,954.88 825.50,951.95 830.50,944.76 836.50,941.31 841.50,956.30 847.50,963.43 852.50,972.00 858.50,963.65 863.50,966.08 869.50,977.93 874.50,966.98 880.50,976.90 886.50,962.11 891.50,965.81 897.50,957.48 902.50,961.42 908.50,955.73 913.50,944.68 919.50,998.24 924.50,990.41 930.50,992.80 935.50,996.77 941.50,1001.15 946.50,1006.18 952.50,1006.43 957.50,1018.09 963.50,1027.38 968.50,1022.75 974.50,1028.54 979.50,1019.65 985.50,1016.53 990.50,998.59 996.50,1005.44 1001.50,1000.04 1007.50,995.44 1012.50,999.44 1018.50,1000.26 1024.50,996.06 1029.50,991.48 1035.50,987.70 1040.50,983.83 1046.50,980.18 1051.50,981.90 1057.50,1017.27 1062.50,1015.78 1068.50,1022.95 1073.50,1030.73 1079.50,1028.21 1084.50,1020.49 1090.50,1006.24 1095.50,1006.89 1101.50,1002.14 1106.50,999.87 1112.50,1000.58 1117.50,991.60 1123.50,997.46 1128.50,1004.54 1134.50,990.02 1139.50,986.77 1145.50,1005.88 1150.50,993.46 1156.50,984.03 1162.50,978.33 1167.50,972.64 1173.50,963.75 1178.50,977.25 1184.50,1018.17 1189.50,1029.08 1195.50,1036.41 1200.50,1047.58 1206.50,1009.33 1211.50,993.22 1217.50,995.54 1222.50,1009.14 1228.50,999.89 1233.50,1010.35 1239.50,1035.58 1244.50,1049.29 1250.50,1041.33 1255.50,1047.31 1261.50,1049.58 1266.50,1054.46 1272.50,1060.39 1277.50,1033.28 1283.50,1031.20 1289.50,1031.96 1294.50,1041.89 1300.50,1042.27 1305.50,1051.94 1311.50,1006.83 1316.50,976.40 1322.50,973.42 1327.50,976.77 1333.50,967.77 1338.50,986.17 1344.50,980.88 1349.50,968.74 1355.50,968.90 1360.50,964.42 1366.50,973.85 1371.50,948.41 1377.50,953.03 1382.50,951.46 1388.50,954.27 1393.50,956.93 1399.50,951.08 1404.50,953.42 1410.50,950.40 1415.50,968.08 1421.50,963.87 1427.50,964.73" fill="none" stroke="#7e57c2" stroke-width="1.25" stroke-linejoin="round"/>
</g>
<rect x="1547" y="7" width="1" height="1076" fill="#e0e3eb"/>
<rect x="3" y="844" width="1644" height="1" fill="#e0e3eb"/>
<rect x="3" y="1048" width="1644" height="1" fill="#e0e3eb"/>
<rect x="3" y="1083" width="1644" height="1" fill="#e0e3eb"/>
</svg>
<div class="t" style="left:42.90px;top:19.25px;font-size:19.9px;line-height:19.9px;color:#131722;letter-spacing:-0.180px;">Bitcoin / TetherUS · 1h · BINANCE</div>
<div class="t" style="left:405.20px;top:19.86px;font-size:17.3px;line-height:17.3px;color:#131722;">O</div>
<div class="t" style="left:419.30px;top:19.86px;font-size:17.3px;line-height:17.3px;color:#ef5350;letter-spacing:0.314px;">55,211.98</div>
<div class="t" style="left:506.40px;top:19.86px;font-size:17.3px;line-height:17.3px;color:#131722;">H</div>
<div class="t" style="left:520.50px;top:19.86px;font-size:17.3px;line-height:17.3px;color:#ef5350;letter-spacing:0.127px;">55,274.00</div>
<div class="t" style="left:608.50px;top:19.86px;font-size:17.3px;line-height:17.3px;color:#131722;">L</div>
<div class="t" style="left:618.70px;top:19.86px;font-size:17.3px;line-height:17.3px;color:#ef5350;letter-spacing:0.177px;">55,006.00</div>
<div class="t" style="left:706.20px;top:19.86px;font-size:17.3px;line-height:17.3px;color:#131722;">C</div>
<div class="t" style="left:719.40px;top:19.86px;font-size:17.3px;line-height:17.3px;color:#ef5350;letter-spacing:0.152px;">55,188.00</div>
<div class="t" style="left:807.20px;top:19.86px;font-size:17.3px;line-height:17.3px;color:#ef5350;letter-spacing:0.080px;">−23.99 (−0.04%)</div>
<div style="position:absolute;left:8px;top:45px;width:258px;height:33px;background:rgba(255,255,255,0.5)"></div>
<div style="position:absolute;left:8px;top:114px;width:396px;height:28px;background:rgba(255,255,255,0.5)"></div>
<div class="box" style="left:13.3px;top:47.1px;width:99.4px;height:29.4px;border-color:#ef5350"></div>
<div class="box" style="left:163.2px;top:47.1px;width:99.5px;height:29.4px;border-color:#2962ff"></div>
<div class="t" style="left:23.70px;top:56.44px;font-size:15.9px;line-height:15.9px;color:#ef5350;letter-spacing:0.993px;">55,186.15</div>
<div class="t" style="left:123.80px;top:56.30px;font-size:13.7px;line-height:13.7px;color:#131722;letter-spacing:0.251px;">0.01</div>
<div class="t" style="left:173.40px;top:56.44px;font-size:15.9px;line-height:15.9px;color:#2962ff;letter-spacing:1.043px;">55,186.16</div>
<div class="t" style="left:15.00px;top:90.93px;font-size:16.5px;line-height:16.5px;color:#131722;letter-spacing:-0.300px;">Vol · BTC</div>
<div class="t" style="left:94.20px;top:90.93px;font-size:16.5px;line-height:16.5px;color:#ef5350;letter-spacing:0.122px;">234</div>
<div class="t" style="left:15.00px;top:121.30px;font-size:16.3px;line-height:16.3px;color:#131722;letter-spacing:-0.300px;">BB</div>
<div class="t" style="left:41.40px;top:121.30px;font-size:16.3px;line-height:16.3px;color:#6a6d78;letter-spacing:0.333px;">24 close 2 0</div>
<div class="t" style="left:145.50px;top:121.30px;font-size:16.3px;line-height:16.3px;color:#ff6d00;letter-spacing:0.733px;">54,422.48</div>
<div class="t" style="left:232.80px;top:121.30px;font-size:16.3px;line-height:16.3px;color:#2962ff;letter-spacing:0.796px;">57,514.62</div>
<div class="t" style="left:320.80px;top:121.30px;font-size:16.3px;line-height:16.3px;color:#2962ff;letter-spacing:0.783px;">51,330.33</div>
<div class="t" style="left:15.10px;top:859.10px;font-size:16.3px;line-height:16.3px;color:#131722;letter-spacing:-0.300px;">RSI</div>
<div class="t" style="left:45.70px;top:859.10px;font-size:16.3px;line-height:16.3px;color:#6a6d78;letter-spacing:0.212px;">14 close</div>
<div class="t" style="left:120.00px;top:859.10px;font-size:16.3px;line-height:16.3px;color:#7e57c2;letter-spacing:0.542px;">50.43</div>
<div class="t" style="left:172.90px;top:859.10px;font-size:16.3px;line-height:16.3px;color:#f3da55;letter-spacing:0.442px;">52.64</div>
<div class="t" style="left:1559.00px;top:796.94px;font-size:15.9px;line-height:15.9px;color:#131722;letter-spacing:0.281px;">48,000.00</div>
<div class="t" style="left:1559.00px;top:734.30px;font-size:15.9px;line-height:15.9px;color:#131722;letter-spacing:0.281px;">50,000.00</div>
<div class="t" style="left:1559.00px;top:671.66px;font-size:15.9px;line-height:15.9px;color:#131722;letter-spacing:0.281px;">52,000.00</div>
<div class="t" style="left:1559.00px;top:609.03px;font-size:15.9px;line-height:15.9px;color:#131722;letter-spacing:0.281px;">54,000.00</div>
<div class="t" style="left:1559.00px;top:546.39px;font-size:15.9px;line-height:15.9px;color:#131722;letter-spacing:0.281px;">56,000.00</div>
<div class="t" style="left:1559.00px;top:483.76px;font-size:15.9px;line-height:15.9px;color:#131722;letter-spacing:0.281px;">58,000.00</div>
<div class="t" style="left:1559.00px;top:421.12px;font-size:15.9px;line-height:15.9px;color:#131722;letter-spacing:0.281px;">60,000.00</div>
<div class="t" style="left:1559.00px;top:358.48px;font-size:15.9px;line-height:15.9px;color:#131722;letter-spacing:0.281px;">62,000.00</div>
<div class="t" style="left:1559.00px;top:295.85px;font-size:15.9px;line-height:15.9px;color:#131722;letter-spacing:0.281px;">64,000.00</div>
<div class="t" style="left:1559.00px;top:233.21px;font-size:15.9px;line-height:15.9px;color:#131722;letter-spacing:0.281px;">66,000.00</div>
<div class="t" style="left:1559.00px;top:170.58px;font-size:15.9px;line-height:15.9px;color:#131722;letter-spacing:0.281px;">68,000.00</div>
<div class="t" style="left:1559.00px;top:107.94px;font-size:15.9px;line-height:15.9px;color:#131722;letter-spacing:0.281px;">70,000.00</div>
<div class="t" style="left:1559.00px;top:45.30px;font-size:15.9px;line-height:15.9px;color:#131722;letter-spacing:0.281px;">72,000.00</div>
<div class="pb" style="left:1547px;top:54.26px;width:94px;height:20.40px;background:#f7c02c"></div>
<div class="t" style="left:1559.00px;top:56.60px;font-size:15.9px;line-height:15.9px;color:#131722;letter-spacing:0.431px;">71,661.63</div>
<div class="pb" style="left:1547px;top:153.27px;width:94px;height:20.40px;background:#f7c02c"></div>
<div class="t" style="left:1559.00px;top:155.61px;font-size:15.9px;line-height:15.9px;color:#131722;letter-spacing:0.431px;">68,500.37</div>
<div class="pb" style="left:1547px;top:230.33px;width:94px;height:20.40px;background:#e1c4ea"></div>
<div class="t" style="left:1559.00px;top:232.67px;font-size:15.9px;line-height:15.9px;color:#131722;letter-spacing:0.431px;">66,039.79</div>
<div class="pb" style="left:1547px;top:261.86px;width:94px;height:20.40px;background:#e1c4ea"></div>
<div class="t" style="left:1559.00px;top:264.20px;font-size:15.9px;line-height:15.9px;color:#131722;letter-spacing:0.431px;">65,032.90</div>
<div class="pb" style="left:1547px;top:292.22px;width:94px;height:20.40px;background:#e1c4ea"></div>
<div class="t" style="left:1559.00px;top:294.56px;font-size:15.9px;line-height:15.9px;color:#131722;letter-spacing:0.431px;">64,063.38</div>
<div class="pb" style="left:1547px;top:314.65px;width:94px;height:20.40px;background:#d5cbec"></div>
<div class="t" style="left:1559.00px;top:317.00px;font-size:15.9px;line-height:15.9px;color:#131722;letter-spacing:0.431px;">63,347.12</div>
<div class="pb" style="left:1547px;top:349.81px;width:94px;height:20.40px;background:#cfe9cf"></div>
<div class="t" style="left:1559.00px;top:352.15px;font-size:15.9px;line-height:15.9px;color:#131722;letter-spacing:0.431px;">62,224.62</div>
<div class="pb" style="left:1547px;top:421.87px;width:94px;height:20.40px;background:#cfe9cf"></div>
<div class="t" style="left:1559.00px;top:424.21px;font-size:15.9px;line-height:15.9px;color:#131722;letter-spacing:0.431px;">59,923.59</div>
<div class="pb" style="left:1547px;top:668.40px;width:94px;height:20.40px;background:#f7c02c"></div>
<div class="t" style="left:1559.00px;top:670.74px;font-size:15.9px;line-height:15.9px;color:#131722;letter-spacing:0.431px;">52,051.97</div>
<div class="pb" style="left:1547px;top:570.50px;width:94px;height:20.40px;background:#ef5350"></div>
<div class="t" style="left:1559.00px;top:572.84px;font-size:15.9px;line-height:15.9px;color:#ffffff;letter-spacing:0.431px;">55,188.00</div>
<div class="pb" style="left:1547px;top:591.50px;width:94px;height:20.40px;background:#f9cbd0"></div>
<div class="t" style="left:1559.00px;top:593.84px;font-size:15.9px;line-height:15.9px;color:#131722;letter-spacing:0.431px;">55,002.19</div>
<div class="pb" style="left:1463.1px;top:570.5px;width:84px;height:20.4px;background:#ef5350;border-radius:3px 0 0 3px"></div>
<div style="position:absolute;left:1546px;top:570.5px;width:1px;height:20.4px;background:rgba(255,255,255,0.55)"></div>
<div class="t" style="left:1469.70px;top:574.06px;font-size:15.4px;line-height:15.4px;color:#ffffff;letter-spacing:-0.300px;">BTCUSDT</div>
<div style="position:absolute;left:1548px;top:8px;width:98px;height:40px;background:#fff"></div>
<div class="usdt"></div>
<div class="t" style="left:1557.60px;top:21.96px;font-size:15.4px;line-height:15.4px;color:#131722;letter-spacing:-0.300px;">USDT</div>
<div style="position:absolute;left:1548px;top:845px;width:99px;height:203px;overflow:hidden"><div style="position:absolute;left:-1548px;top:-845px;width:1647px;height:1138px">
<div class="t" style="left:1558.50px;top:877.64px;font-size:15.9px;line-height:15.9px;color:#131722;letter-spacing:0.193px;">80.00</div>
<div class="t" style="left:1558.50px;top:931.54px;font-size:15.9px;line-height:15.9px;color:#131722;letter-spacing:0.193px;">60.00</div>
<div class="t" style="left:1558.50px;top:984.24px;font-size:15.9px;line-height:15.9px;color:#131722;letter-spacing:0.193px;">40.00</div>
<div class="t" style="left:1558.50px;top:1037.64px;font-size:15.9px;line-height:15.9px;color:#131722;letter-spacing:0.193px;">20.00</div>
</div></div>
<div class="t" style="left:125.85px;top:1059.96px;font-size:15.4px;line-height:15.4px;color:#131722;">28</div>
<div class="t" style="left:258.85px;top:1059.96px;font-size:15.4px;line-height:15.4px;color:#131722;">29</div>
<div class="t" style="left:391.25px;top:1059.96px;font-size:15.4px;line-height:15.4px;color:#131722;">30</div>
<div class="t" style="left:523.15px;top:1059.96px;font-size:15.4px;line-height:15.4px;color:#131722;">31</div>
<div class="t" style="left:792.83px;top:1059.96px;font-size:15.4px;line-height:15.4px;color:#131722;">2</div>
<div class="t" style="left:925.03px;top:1059.96px;font-size:15.4px;line-height:15.4px;color:#131722;">3</div>
<div class="t" style="left:1057.73px;top:1059.96px;font-size:15.4px;line-height:15.4px;color:#131722;">4</div>
<div class="t" style="left:1190.13px;top:1059.96px;font-size:15.4px;line-height:15.4px;color:#131722;">5</div>
<div class="t" style="left:1322.73px;top:1059.96px;font-size:15.4px;line-height:15.4px;color:#131722;">6</div>
<div class="t" style="left:1455.23px;top:1059.96px;font-size:15.4px;line-height:15.4px;color:#131722;">7</div>
<div class="t" style="left:649.42px;top:1059.96px;font-size:15.4px;line-height:15.4px;color:#131722;font-weight:bold;">Aug</div>
<div class="t" style="left:2.90px;top:1059.96px;font-size:15.4px;line-height:15.4px;color:#131722;">7</div>
<div class="t" style="left:21.90px;top:1100.03px;font-size:17.8px;line-height:17.8px;color:#131722;letter-spacing:-0.300px;">1D</div>
<div class="t" style="left:59.30px;top:1100.03px;font-size:17.8px;line-height:17.8px;color:#131722;letter-spacing:-0.300px;">5D</div>
<div class="t" style="left:98.90px;top:1100.03px;font-size:17.8px;line-height:17.8px;color:#131722;letter-spacing:-0.300px;">1M</div>
<div class="t" style="left:138.90px;top:1100.03px;font-size:17.8px;line-height:17.8px;color:#131722;letter-spacing:-0.142px;">3M</div>
<div class="t" style="left:179.00px;top:1100.03px;font-size:17.8px;line-height:17.8px;color:#131722;letter-spacing:0.658px;">6M</div>
<div class="t" style="left:220.40px;top:1100.03px;font-size:17.8px;line-height:17.8px;color:#131722;letter-spacing:-0.300px;">YTD</div>
<div class="t" style="left:271.20px;top:1100.03px;font-size:17.8px;line-height:17.8px;color:#131722;letter-spacing:-0.300px;">1Y</div>
<div class="t" style="left:307.20px;top:1100.03px;font-size:17.8px;line-height:17.8px;color:#131722;letter-spacing:-0.300px;">5Y</div>
<div class="t" style="left:344.60px;top:1100.03px;font-size:17.8px;line-height:17.8px;color:#131722;letter-spacing:-0.300px;">All</div>
<div class="t" style="left:1486.50px;top:1100.41px;font-size:17px;line-height:17px;color:#131722;letter-spacing:0.619px;">18:12:35 (UTC+8)</div>
<svg width="1647" height="1138" viewBox="0 0 1647 1138" style="position:absolute;left:0;top:0">
<circle cx="29.6" cy="22.4" r="6.6" fill="#1a9a8e"/>
<path d="M27 20.2h5.4M29.7 20.2v4.6" stroke="#fff" stroke-width="1.2" fill="none"/>
<circle cx="22.1" cy="30.6" r="8.6" fill="#fff"/>
<circle cx="22.1" cy="30.6" r="7.1" fill="#f7931a"/>
<text x="22.1" y="34.3" font-family="Liberation Sans" font-size="9.5" fill="#fff" text-anchor="middle">B</text>
<circle cx="373.3" cy="27" r="11" fill="#e3f4f1"/>
<circle cx="373.3" cy="27" r="5" fill="#089981"/>
<rect x="14.8" y="145.6" width="34.6" height="23.6" rx="4.5" fill="rgba(255,255,255,0.9)" stroke="#d4d6da" stroke-width="1"/>
<path d="M26.6 159.3 L31.4 155 L36.2 159.3" fill="none" stroke="#131722" stroke-width="1.7"/>
<circle cx="230.10" cy="866.3" r="3.9" fill="none" stroke="#131722" stroke-width="1.1"/>
<line x1="225.50" y1="870.9" x2="234.70" y2="861.6999999999999" stroke="#131722" stroke-width="1.1"/>
<circle cx="249.75" cy="866.3" r="3.9" fill="none" stroke="#131722" stroke-width="1.1"/>
<line x1="245.15" y1="870.9" x2="254.35" y2="861.6999999999999" stroke="#131722" stroke-width="1.1"/>
<circle cx="269.40" cy="866.3" r="3.9" fill="none" stroke="#131722" stroke-width="1.1"/>
<line x1="264.80" y1="870.9" x2="274.00" y2="861.6999999999999" stroke="#131722" stroke-width="1.1"/>
<circle cx="289.05" cy="866.3" r="3.9" fill="none" stroke="#131722" stroke-width="1.1"/>
<line x1="284.45" y1="870.9" x2="293.65" y2="861.6999999999999" stroke="#131722" stroke-width="1.1"/>
<circle cx="308.70" cy="866.3" r="3.9" fill="none" stroke="#131722" stroke-width="1.1"/>
<line x1="304.10" y1="870.9" x2="313.30" y2="861.6999999999999" stroke="#131722" stroke-width="1.1"/>
<circle cx="328.35" cy="866.3" r="3.9" fill="none" stroke="#131722" stroke-width="1.1"/>
<line x1="323.75" y1="870.9" x2="332.95" y2="861.6999999999999" stroke="#131722" stroke-width="1.1"/>
<circle cx="1427.7" cy="827.3" r="12.6" fill="#fff"/>
<path d="M1439.1 823.5 A11.8 11.8 0 1 1 1431.5 816.1" fill="none" stroke="#7b1fa2" stroke-width="2"/>
<circle cx="1436" cy="818.8" r="2.9" fill="#f23645"/>
<path d="M1431 821 L1422.3 828 L1427.2 828 L1424 834.1 L1432.7 827 L1427.7 827 Z" fill="#8e24aa"/>
<path d="M1592.8 1058.6 L1601.9 1058.6 L1605.6 1065.9 L1601.9 1073.3 L1592.8 1073.3 L1589 1065.9 Z" fill="none" stroke="#131722" stroke-width="1.2" stroke-linejoin="round"/>
<circle cx="1597.35" cy="1065.9" r="2.1" fill="none" stroke="#131722" stroke-width="1.1"/>
<rect x="377" y="1094.4" width="1" height="26.6" fill="#e0e3eb"/>
<path d="M395.9 1105.5 V1100.2 A2.1 2.1 0 0 1 398 1098.1 H414.9 A2.1 2.1 0 0 1 417 1100.2 V1114.9 A2.1 2.1 0 0 1 414.9 1117 H406.8 M395.9 1103.1 H417 M402.2 1095.2 V1099.3 M410.9 1095.2 V1099.3 M394 1113.2 H403.5 M399.05 1109.1 L403.3 1113.2 L399.05 1117.3" fill="none" stroke="#1e222d" stroke-width="1.3"/>
<text x="64.10" y="1030.5" font-family="Liberation Sans" font-weight="bold" font-size="25.5" letter-spacing="0.109" fill="#131722" stroke="#fff" stroke-width="5" stroke-linejoin="round" paint-order="stroke">TradingView</text>
<g stroke="#fff" stroke-width="5" paint-order="stroke" stroke-linejoin="round">
<path d="M18.1 1011.9 H32.7 V1030.3 H25.4 V1018.75 H18.1 Z" fill="#131722"/>
<circle cx="39.05" cy="1015.4" r="3.5" fill="#131722"/>
<path d="M46.9 1011.9 H55 L47.85 1030.3 H39.5 Z" fill="#131722"/>
</g>
<path d="M1629.2 26.8 L1632.4 29.9 L1635.6 26.8" fill="none" stroke="#131722" stroke-width="1.3"/>
</svg>
</body></html>
